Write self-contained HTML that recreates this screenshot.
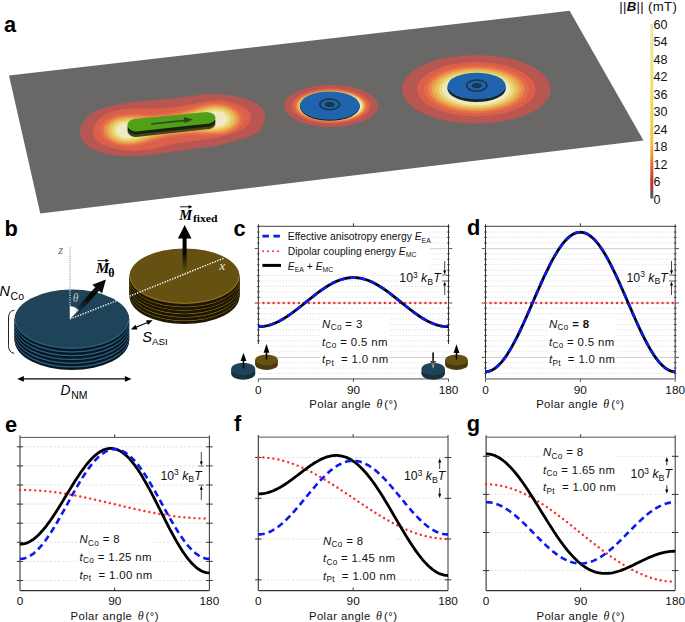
<!DOCTYPE html>
<html><head><meta charset="utf-8"><style>
html,body{margin:0;padding:0;background:#fff;overflow:hidden;}
svg{display:block;}
</style></head><body>
<svg width="685" height="622" viewBox="0 0 685 622" font-family="Liberation Sans">
<defs>
<clipPath id="clipPlane"><polygon points="9,75.4 569.6,10.8 643.5,140.4 40.3,213.5"/></clipPath>
<linearGradient id="cbar" x1="0" y1="1" x2="0" y2="0"><stop offset="0" stop-color="#5a5a5a"/><stop offset="0.05" stop-color="#5a5a5a"/><stop offset="0.05" stop-color="#b23a3a"/><stop offset="0.1" stop-color="#c52d2d"/><stop offset="0.15" stop-color="#dd4b30"/><stop offset="0.2" stop-color="#e56a35"/><stop offset="0.25" stop-color="#ee9a38"/><stop offset="0.32" stop-color="#f2c040"/><stop offset="0.5" stop-color="#f1d84c"/><stop offset="0.75" stop-color="#eee27a"/><stop offset="1" stop-color="#ece9b4"/></linearGradient>
<linearGradient id="gMth" x1="70" y1="319" x2="106" y2="279.5" gradientUnits="userSpaceOnUse"><stop offset="0.15" stop-color="#000" stop-opacity="0"/><stop offset="0.55" stop-color="#000" stop-opacity="0.9"/><stop offset="1" stop-color="#000"/></linearGradient>
<linearGradient id="gMfx" x1="0" y1="225" x2="0" y2="272" gradientUnits="userSpaceOnUse"><stop offset="0" stop-color="#000"/><stop offset="0.55" stop-color="#000"/><stop offset="1" stop-color="#000" stop-opacity="0"/></linearGradient>
<linearGradient id="gDown" x1="0" y1="352" x2="0" y2="369" gradientUnits="userSpaceOnUse"><stop offset="0" stop-color="#000"/><stop offset="0.45" stop-color="#111"/><stop offset="1" stop-color="#ddd"/></linearGradient>
<filter id="soft" x="-10%" y="-10%" width="120%" height="120%"><feGaussianBlur stdDeviation="0.5"/></filter>
<filter id="soft2" x="-10%" y="-10%" width="120%" height="120%"><feGaussianBlur stdDeviation="0.75"/></filter>
</defs>
<rect width="685" height="622" fill="#fff"/>
<polygon points="9,75.4 569.6,10.8 643.5,140.4 40.3,213.5" fill="#6a6767"/>
<g clip-path="url(#clipPlane)">
<g filter="url(#soft)">
<polygon points="80.1,131.9 80.1,133.2 80.4,134.6 80.7,135.9 81.2,137.2 81.8,138.5 82.4,139.7 83.2,140.9 84.1,142.1 85.0,143.2 86.0,144.2 87.0,145.1 88.1,146.0 89.3,146.9 90.5,147.6 91.7,148.4 92.9,149.0 94.2,149.7 95.4,150.3 96.7,150.8 98.0,151.3 99.3,151.8 100.7,152.3 102.0,152.7 103.3,153.1 104.7,153.5 106.0,153.8 107.4,154.1 108.7,154.4 110.1,154.6 111.5,154.9 112.8,155.1 114.2,155.2 115.6,155.4 117.0,155.5 118.3,155.6 119.7,155.7 121.1,155.8 122.5,155.9 123.9,155.9 125.3,156.0 126.7,156.0 128.1,156.0 129.5,156.0 130.9,156.0 132.3,155.9 133.6,155.9 135.0,155.9 136.4,155.8 137.8,155.7 139.2,155.7 140.6,155.6 142.0,155.5 143.4,155.4 144.7,155.3 146.1,155.2 147.5,155.0 148.9,154.9 150.3,154.8 151.7,154.7 153.0,154.5 154.4,154.4 155.8,154.2 157.2,154.0 158.6,153.9 159.9,153.7 161.3,153.5 162.7,153.4 164.1,153.2 165.4,153.0 166.8,152.8 168.2,152.6 169.6,152.4 171.0,152.2 172.3,152.0 173.7,151.8 175.1,151.6 176.5,151.4 177.8,151.2 179.2,151.0 180.6,150.8 182.0,150.6 183.3,150.4 184.7,150.2 186.1,150.0 187.5,149.8 188.9,149.6 190.2,149.4 191.6,149.2 193.0,149.0 194.4,148.8 195.7,148.6 197.1,148.4 198.5,148.2 199.9,148.0 201.3,147.9 202.6,147.7 204.0,147.5 205.4,147.3 206.8,147.2 208.2,147.0 209.5,146.9 210.9,146.7 212.3,146.5 213.7,146.4 215.1,146.2 216.4,145.9 217.8,145.7 219.1,145.4 220.5,145.1 221.8,144.8 223.2,144.4 224.5,144.0 225.8,143.6 227.2,143.2 228.5,142.8 229.8,142.3 231.1,141.9 232.5,141.5 233.8,141.2 235.1,140.8 236.5,140.4 237.8,140.1 239.1,139.7 240.5,139.4 241.8,139.0 243.2,138.7 244.5,138.3 245.9,137.8 247.2,137.4 248.5,136.9 249.8,136.4 251.1,135.9 252.4,135.3 253.6,134.6 254.8,133.9 256.0,133.2 257.1,132.4 258.2,131.5 259.2,130.6 260.2,129.6 261.1,128.5 261.9,127.4 262.7,126.2 263.3,125.0 263.9,123.7 264.3,122.3 264.6,121.0 264.9,119.5 265.0,118.1 265.0,116.7 264.8,115.3 264.6,113.9 264.2,112.6 263.8,111.3 263.2,110.1 262.5,109.0 261.7,107.9 260.8,106.9 259.8,105.9 258.8,105.1 257.6,104.2 256.5,103.5 255.2,102.8 254.0,102.1 252.7,101.5 251.4,100.9 250.1,100.4 248.8,99.9 247.4,99.5 246.1,99.1 244.7,98.7 243.4,98.3 242.0,98.0 240.7,97.7 239.3,97.4 238.0,97.2 236.6,96.9 235.2,96.6 233.9,96.4 232.5,96.1 231.1,95.9 229.8,95.6 228.4,95.4 227.0,95.1 225.7,94.9 224.3,94.7 222.9,94.5 221.6,94.3 220.2,94.2 218.8,94.0 217.4,93.9 216.0,93.9 214.7,93.8 213.3,93.8 211.9,93.8 210.5,93.9 209.1,94.0 207.7,94.1 206.3,94.2 205.0,94.3 203.6,94.5 202.2,94.6 200.8,94.8 199.4,95.0 198.0,95.2 196.6,95.3 195.2,95.5 193.8,95.7 192.5,95.9 191.1,96.1 189.7,96.3 188.3,96.5 186.9,96.7 185.6,96.8 184.2,97.0 182.8,97.2 181.4,97.4 180.1,97.6 178.7,97.7 177.3,97.9 175.9,98.1 174.5,98.2 173.2,98.4 171.8,98.5 170.4,98.7 169.0,98.8 167.6,99.0 166.3,99.1 164.9,99.2 163.5,99.4 162.1,99.5 160.7,99.6 159.4,99.7 158.0,99.8 156.6,100.0 155.2,100.1 153.8,100.2 152.4,100.3 151.0,100.4 149.7,100.5 148.3,100.6 146.9,100.7 145.5,100.9 144.1,101.0 142.7,101.1 141.3,101.2 140.0,101.4 138.6,101.5 137.2,101.6 135.8,101.8 134.4,101.9 133.1,102.1 131.7,102.3 130.3,102.4 128.9,102.6 127.5,102.8 126.2,103.0 124.8,103.2 123.4,103.5 122.1,103.7 120.7,103.9 119.3,104.2 118.0,104.5 116.6,104.7 115.2,105.0 113.9,105.3 112.5,105.6 111.2,106.0 109.8,106.3 108.5,106.7 107.1,107.0 105.8,107.4 104.5,107.8 103.1,108.2 101.8,108.6 100.5,109.0 99.2,109.5 97.9,110.0 96.6,110.6 95.4,111.2 94.2,111.8 93.0,112.6 91.9,113.3 90.7,114.2 89.6,115.0 88.6,116.0 87.6,117.0 86.6,118.0 85.6,119.1 84.7,120.2 83.9,121.4 83.1,122.6 82.3,123.9 81.7,125.2 81.1,126.5 80.7,127.8 80.3,129.2 80.1,130.5 80.1,131.9" fill="#b85651"/>
<polygon points="93.3,131.8 93.4,133.0 93.6,134.2 94.0,135.3 94.4,136.4 94.9,137.5 95.5,138.5 96.2,139.5 97.0,140.4 97.8,141.2 98.7,142.0 99.6,142.7 100.6,143.3 101.6,143.9 102.7,144.5 103.8,145.0 104.9,145.4 106.0,145.9 107.1,146.3 108.2,146.7 109.3,147.0 110.4,147.4 111.6,147.7 112.7,148.0 113.9,148.3 115.0,148.5 116.2,148.8 117.3,149.0 118.5,149.2 119.6,149.4 120.8,149.6 121.9,149.8 123.1,149.9 124.3,150.1 125.4,150.2 126.6,150.3 127.8,150.4 128.9,150.5 130.1,150.6 131.3,150.6 132.5,150.6 133.6,150.7 134.8,150.7 136.0,150.6 137.2,150.6 138.3,150.6 139.5,150.5 140.7,150.4 141.8,150.4 143.0,150.2 144.2,150.1 145.3,150.0 146.5,149.8 147.7,149.7 148.8,149.5 150.0,149.3 151.1,149.1 152.3,148.9 153.4,148.7 154.6,148.4 155.7,148.2 156.9,147.9 158.0,147.7 159.1,147.4 160.3,147.2 161.4,146.9 162.6,146.6 163.7,146.4 164.9,146.1 166.0,145.8 167.1,145.5 168.3,145.3 169.4,145.0 170.6,144.8 171.7,144.5 172.9,144.2 174.0,144.0 175.2,143.8 176.3,143.5 177.5,143.3 178.7,143.1 179.8,142.9 181.0,142.7 182.1,142.5 183.3,142.4 184.5,142.2 185.6,142.0 186.8,141.9 188.0,141.7 189.1,141.6 190.3,141.4 191.5,141.3 192.6,141.1 193.8,141.0 195.0,140.8 196.1,140.7 197.3,140.5 198.5,140.4 199.6,140.2 200.8,140.1 201.9,140.0 203.1,139.8 204.3,139.6 205.4,139.5 206.6,139.3 207.7,139.1 208.9,139.0 210.0,138.8 211.2,138.6 212.3,138.4 213.5,138.2 214.6,138.0 215.7,137.7 216.9,137.5 218.0,137.3 219.1,137.0 220.3,136.8 221.4,136.5 222.6,136.3 223.7,136.0 224.8,135.7 226.0,135.4 227.1,135.1 228.2,134.8 229.4,134.5 230.5,134.1 231.6,133.8 232.8,133.4 233.9,133.1 235.1,132.7 236.2,132.3 237.3,131.9 238.4,131.4 239.5,130.9 240.6,130.4 241.6,129.9 242.6,129.3 243.6,128.7 244.6,128.0 245.5,127.3 246.4,126.5 247.2,125.7 248.0,124.8 248.7,123.9 249.4,122.9 249.9,121.9 250.4,120.8 250.7,119.7 250.9,118.6 250.9,117.4 250.8,116.3 250.6,115.1 250.2,114.0 249.8,113.0 249.2,111.9 248.5,111.0 247.7,110.1 246.9,109.3 246.0,108.6 245.0,107.9 244.0,107.4 242.9,106.8 241.8,106.3 240.7,105.9 239.6,105.4 238.5,105.0 237.4,104.5 236.3,104.1 235.2,103.7 234.1,103.3 233.0,103.0 231.8,102.6 230.7,102.3 229.6,101.9 228.4,101.6 227.3,101.4 226.1,101.1 225.0,100.9 223.8,100.7 222.7,100.6 221.5,100.4 220.3,100.3 219.2,100.3 218.0,100.3 216.8,100.3 215.7,100.3 214.5,100.4 213.4,100.5 212.2,100.6 211.0,100.7 209.9,100.8 208.7,101.0 207.6,101.2 206.4,101.4 205.2,101.6 204.1,101.8 202.9,102.0 201.8,102.2 200.6,102.4 199.5,102.7 198.3,102.9 197.1,103.1 196.0,103.4 194.8,103.6 193.7,103.8 192.5,104.0 191.4,104.2 190.2,104.5 189.0,104.7 187.9,104.9 186.7,105.1 185.6,105.3 184.4,105.5 183.3,105.7 182.1,105.9 180.9,106.1 179.8,106.3 178.6,106.5 177.5,106.7 176.3,106.8 175.2,107.0 174.0,107.2 172.8,107.3 171.7,107.5 170.5,107.6 169.4,107.7 168.2,107.9 167.0,108.0 165.9,108.1 164.7,108.2 163.5,108.3 162.4,108.3 161.2,108.4 160.0,108.5 158.9,108.5 157.7,108.5 156.5,108.6 155.4,108.6 154.2,108.6 153.0,108.6 151.9,108.6 150.7,108.6 149.5,108.6 148.3,108.6 147.2,108.6 146.0,108.5 144.8,108.5 143.7,108.5 142.5,108.5 141.3,108.5 140.1,108.5 139.0,108.5 137.8,108.5 136.6,108.5 135.4,108.5 134.3,108.5 133.1,108.5 131.9,108.6 130.7,108.6 129.6,108.7 128.4,108.7 127.2,108.8 126.0,108.9 124.9,109.1 123.7,109.2 122.5,109.4 121.4,109.5 120.2,109.7 119.0,109.9 117.9,110.2 116.7,110.4 115.6,110.7 114.4,111.0 113.3,111.3 112.2,111.7 111.1,112.1 110.0,112.5 108.9,112.9 107.8,113.4 106.8,113.9 105.7,114.4 104.7,114.9 103.7,115.5 102.7,116.1 101.7,116.8 100.8,117.5 99.9,118.3 99.1,119.1 98.2,119.9 97.5,120.8 96.7,121.7 96.0,122.7 95.4,123.8 94.9,124.9 94.4,126.0 94.0,127.1 93.6,128.3 93.4,129.5 93.3,130.7 93.3,131.8" fill="#db5e4a"/>
<ellipse cx="331" cy="106" rx="47.00" ry="21.00" fill="#b85651"/>
<ellipse cx="331" cy="106" rx="39.48" ry="17.64" fill="#db5e4a"/>
<ellipse cx="476.3" cy="89.3" rx="74.50" ry="34.30" fill="#b85651"/>
<ellipse cx="476.3" cy="89.3" rx="59.23" ry="27.27" fill="#db5e4a"/>
</g>
<g filter="url(#soft2)">
<polygon points="130.5,146.5 129.5,146.6 128.5,146.6 127.5,146.6 126.5,146.5 125.7,146.5 125.0,146.5 124.0,146.4 123.0,146.3 122.0,146.2 121.0,146.0 120.5,146.0 119.5,145.8 118.5,145.6 118.0,145.5 117.0,145.2 116.1,145.0 115.5,144.8 114.5,144.5 114.0,144.4 113.0,144.0 112.5,143.8 111.7,143.5 111.0,143.2 110.5,143.0 109.5,142.5 109.0,142.2 108.5,142.0 107.7,141.5 107.0,141.1 106.5,140.7 106.0,140.4 105.5,140.0 104.9,139.5 104.3,139.0 103.8,138.5 103.3,138.0 102.9,137.5 102.5,137.0 102.0,136.3 101.5,135.6 101.2,135.0 100.9,134.5 100.5,133.5 100.4,133.0 100.2,132.0 100.0,131.0 100.0,130.0 100.1,129.0 100.3,128.0 100.5,127.2 100.7,126.5 101.0,125.9 101.5,125.0 101.8,124.5 102.1,124.0 102.5,123.5 103.0,122.9 103.5,122.4 104.0,121.8 104.5,121.4 105.0,121.0 105.6,120.5 106.2,120.0 107.0,119.5 107.5,119.2 108.0,118.8 108.6,118.5 109.5,118.0 110.0,117.8 110.6,117.5 111.5,117.1 112.0,116.9 113.0,116.5 113.5,116.3 114.5,116.0 115.0,115.8 116.0,115.5 116.5,115.4 117.5,115.2 118.2,115.0 119.0,114.8 120.0,114.6 120.9,114.5 121.5,114.4 122.5,114.3 123.5,114.2 124.5,114.1 125.5,114.0 126.0,114.0 127.0,113.9 128.0,113.8 129.0,113.8 130.0,113.7 131.0,113.7 132.0,113.7 133.0,113.7 134.0,113.7 135.0,113.7 136.0,113.8 137.0,113.8 138.0,113.8 139.0,113.9 140.0,113.9 141.0,113.9 142.0,114.0 142.5,114.0 143.5,114.0 144.5,114.1 145.5,114.1 146.5,114.1 147.5,114.2 148.5,114.2 149.5,114.2 150.5,114.2 151.5,114.2 152.5,114.2 153.5,114.2 154.5,114.1 155.5,114.1 156.5,114.0 157.4,114.0 158.0,114.0 159.0,113.9 160.0,113.8 161.0,113.7 162.0,113.6 163.0,113.6 163.5,113.5 164.5,113.4 165.5,113.3 166.5,113.2 167.5,113.0 168.0,113.0 169.0,112.8 170.0,112.7 171.0,112.5 171.5,112.4 172.5,112.3 173.5,112.1 174.1,112.0 175.0,111.8 176.0,111.6 176.6,111.5 177.5,111.3 178.5,111.1 179.0,111.0 180.0,110.7 181.0,110.5 181.5,110.4 182.5,110.1 183.0,110.0 184.0,109.7 184.8,109.5 185.5,109.3 186.5,109.0 187.0,108.8 188.0,108.5 188.5,108.4 189.5,108.1 190.0,107.9 191.0,107.6 191.5,107.4 192.5,107.1 193.0,106.9 194.0,106.6 194.5,106.5 195.5,106.1 196.0,106.0 197.0,105.7 197.7,105.5 198.5,105.3 199.5,105.0 200.0,104.9 201.0,104.6 201.6,104.5 202.5,104.3 203.5,104.1 204.0,104.0 205.0,103.8 206.0,103.6 206.7,103.5 207.5,103.4 208.5,103.2 209.5,103.1 210.5,103.0 211.0,102.9 212.0,102.9 213.0,102.8 214.0,102.7 215.0,102.7 216.0,102.7 217.0,102.8 218.0,102.8 219.0,102.9 220.0,103.0 220.5,103.0 221.5,103.1 222.5,103.3 223.5,103.4 224.0,103.5 225.0,103.7 226.0,103.9 226.5,104.1 227.5,104.3 228.1,104.5 229.0,104.8 229.7,105.0 230.5,105.3 231.1,105.5 232.0,105.9 232.5,106.1 233.4,106.5 234.0,106.8 234.5,107.1 235.3,107.5 236.0,107.9 236.5,108.2 237.0,108.6 237.6,109.0 238.2,109.5 238.8,110.0 239.4,110.5 239.9,111.0 240.4,111.5 240.8,112.0 241.2,112.5 241.5,113.0 242.0,113.7 242.4,114.5 242.6,115.0 243.0,115.9 243.2,116.5 243.4,117.5 243.5,118.5 243.5,119.0 243.5,119.5 243.4,120.5 243.2,121.5 243.0,122.1 242.7,123.0 242.4,123.5 242.0,124.3 241.6,125.0 241.2,125.5 240.8,126.0 240.4,126.5 240.0,127.0 239.4,127.5 238.9,128.0 238.3,128.5 237.7,129.0 237.0,129.5 236.5,129.8 236.0,130.1 235.4,130.5 234.5,131.0 234.0,131.3 233.5,131.5 232.5,132.0 232.0,132.2 231.3,132.5 230.5,132.8 229.9,133.0 229.0,133.3 228.4,133.5 227.5,133.8 226.6,134.0 226.0,134.1 225.0,134.4 224.3,134.5 223.5,134.7 222.5,134.8 221.5,135.0 221.0,135.0 220.0,135.1 219.0,135.2 218.0,135.3 217.0,135.4 216.0,135.4 215.0,135.5 214.5,135.5 213.5,135.5 212.5,135.6 211.5,135.6 210.5,135.6 209.5,135.6 208.5,135.6 207.5,135.5 206.5,135.5 206.0,135.5 205.0,135.5 204.0,135.4 203.0,135.4 202.0,135.3 201.0,135.3 200.0,135.3 199.0,135.2 198.0,135.2 197.0,135.2 196.0,135.1 195.0,135.1 194.0,135.1 193.0,135.1 192.0,135.1 191.0,135.1 190.0,135.1 189.0,135.2 188.0,135.2 187.0,135.3 186.0,135.3 185.0,135.4 184.0,135.4 183.2,135.5 182.5,135.6 181.5,135.7 180.5,135.8 179.5,135.9 178.5,136.0 178.0,136.0 177.0,136.1 176.0,136.3 175.0,136.4 174.4,136.5 173.5,136.6 172.5,136.8 171.5,136.9 171.0,137.0 170.0,137.2 169.0,137.4 168.4,137.5 167.5,137.7 166.5,137.9 165.9,138.0 165.0,138.2 164.0,138.4 163.5,138.5 162.5,138.8 161.7,139.0 161.0,139.2 160.0,139.4 159.5,139.6 158.5,139.9 158.0,140.0 157.0,140.3 156.4,140.5 155.5,140.8 154.8,141.0 154.0,141.2 153.2,141.5 152.5,141.7 151.6,142.0 151.0,142.2 150.1,142.5 149.5,142.7 148.5,143.0 148.0,143.2 147.0,143.4 146.5,143.6 145.5,143.9 145.0,144.0 144.0,144.3 143.2,144.5 142.5,144.7 141.5,144.9 141.0,145.0 140.0,145.2 139.0,145.4 138.5,145.5 137.5,145.7 136.5,145.9 135.5,146.0 135.0,146.1 134.0,146.2 133.0,146.3 132.0,146.4 131.0,146.5 130.5,146.5" fill="#e46c48"/>
<polygon points="132.5,144.5 131.5,144.6 130.5,144.7 129.5,144.7 128.5,144.8 127.5,144.8 126.5,144.7 125.5,144.7 124.5,144.6 123.5,144.5 123.0,144.4 122.0,144.3 121.0,144.2 120.2,144.0 119.5,143.9 118.5,143.6 118.0,143.5 117.0,143.2 116.3,143.0 115.5,142.7 114.8,142.5 114.0,142.2 113.5,142.0 112.5,141.5 112.0,141.3 111.5,141.0 110.6,140.5 110.0,140.1 109.5,139.8 109.0,139.5 108.4,139.0 107.8,138.5 107.2,138.0 106.7,137.5 106.3,137.0 105.8,136.5 105.5,136.0 105.0,135.3 104.5,134.5 104.3,134.0 104.0,133.2 103.8,132.5 103.6,131.5 103.5,130.5 103.5,129.5 103.7,128.5 103.9,127.5 104.1,127.0 104.5,126.1 104.8,125.5 105.2,125.0 105.5,124.5 106.0,123.9 106.5,123.3 107.0,122.8 107.5,122.3 108.0,121.9 108.5,121.5 109.1,121.0 109.9,120.5 110.5,120.1 111.0,119.8 111.6,119.5 112.5,119.0 113.0,118.8 113.7,118.5 114.5,118.2 115.0,118.0 116.0,117.6 116.5,117.5 117.5,117.2 118.2,117.0 119.0,116.8 120.0,116.6 120.5,116.5 121.5,116.3 122.5,116.2 123.5,116.0 124.0,116.0 125.0,115.9 126.0,115.8 127.0,115.7 128.0,115.7 129.0,115.7 130.0,115.6 131.0,115.6 132.0,115.6 133.0,115.6 134.0,115.6 135.0,115.7 136.0,115.7 137.0,115.7 138.0,115.8 139.0,115.8 140.0,115.9 141.0,116.0 141.8,116.0 142.5,116.0 143.5,116.1 144.5,116.1 145.5,116.2 146.5,116.2 147.5,116.2 148.5,116.2 149.5,116.2 150.5,116.2 151.5,116.2 152.5,116.2 153.5,116.1 154.5,116.1 155.5,116.1 156.4,116.0 157.0,116.0 158.0,115.9 159.0,115.8 160.0,115.7 161.0,115.6 162.0,115.6 162.5,115.5 163.5,115.4 164.5,115.3 165.5,115.2 166.5,115.1 167.0,115.0 168.0,114.9 169.0,114.7 170.0,114.6 170.7,114.5 171.5,114.4 172.5,114.2 173.5,114.1 174.0,114.0 175.0,113.8 176.0,113.6 176.8,113.5 177.5,113.4 178.5,113.2 179.4,113.0 180.0,112.9 181.0,112.7 181.7,112.5 182.5,112.3 183.5,112.1 184.0,112.0 185.0,111.7 185.8,111.5 186.5,111.3 187.5,111.0 188.0,110.9 189.0,110.6 189.5,110.4 190.5,110.1 191.0,109.9 192.0,109.6 192.5,109.5 193.5,109.1 194.0,109.0 195.0,108.6 195.5,108.5 196.5,108.1 197.0,108.0 198.0,107.6 198.5,107.5 199.5,107.2 200.1,107.0 201.0,106.7 201.9,106.5 202.5,106.3 203.5,106.1 204.0,106.0 205.0,105.8 206.0,105.6 206.5,105.5 207.5,105.3 208.5,105.1 209.4,105.0 210.0,104.9 211.0,104.8 212.0,104.7 213.0,104.6 214.0,104.6 215.0,104.5 216.0,104.5 217.0,104.6 218.0,104.6 219.0,104.7 220.0,104.8 221.0,104.9 221.5,105.0 222.5,105.1 223.5,105.3 224.2,105.5 225.0,105.7 226.0,105.9 226.5,106.1 227.5,106.4 228.0,106.6 229.0,106.9 229.5,107.1 230.4,107.5 231.0,107.8 231.5,108.0 232.4,108.5 233.0,108.9 233.5,109.2 234.0,109.5 234.7,110.0 235.4,110.5 236.0,111.0 236.5,111.5 237.0,112.0 237.4,112.5 237.8,113.0 238.2,113.5 238.5,114.0 239.0,114.9 239.3,115.5 239.5,116.1 239.8,117.0 239.9,118.0 240.0,118.9 240.0,119.1 239.9,120.0 239.8,121.0 239.5,122.0 239.3,122.5 239.0,123.2 238.5,124.0 238.2,124.5 237.9,125.0 237.5,125.5 237.0,126.0 236.5,126.5 236.0,127.0 235.4,127.5 234.8,128.0 234.1,128.5 233.5,128.9 233.0,129.2 232.5,129.5 231.5,130.0 231.0,130.3 230.5,130.5 229.5,130.9 229.0,131.1 228.0,131.5 227.5,131.7 226.5,132.0 226.0,132.1 225.0,132.4 224.5,132.5 223.5,132.7 222.5,132.9 221.9,133.0 221.0,133.1 220.0,133.3 219.0,133.4 218.0,133.4 217.1,133.5 216.5,133.5 215.5,133.6 214.5,133.6 213.5,133.7 212.5,133.7 211.5,133.7 210.5,133.7 209.5,133.7 208.5,133.6 207.5,133.6 206.5,133.5 205.5,133.5 205.0,133.5 204.0,133.4 203.0,133.4 202.0,133.3 201.0,133.3 200.0,133.2 199.0,133.2 198.0,133.1 197.0,133.1 196.0,133.1 195.0,133.1 194.0,133.1 193.0,133.1 192.0,133.1 191.0,133.1 190.0,133.2 189.0,133.2 188.0,133.3 187.0,133.3 186.0,133.4 185.0,133.4 184.3,133.5 183.5,133.6 182.5,133.7 181.5,133.8 180.5,133.9 179.5,134.0 179.0,134.0 178.0,134.1 177.0,134.3 176.0,134.4 175.0,134.5 174.5,134.6 173.5,134.7 172.5,134.9 171.5,135.0 171.0,135.1 170.0,135.2 169.0,135.4 168.4,135.5 167.5,135.7 166.5,135.8 165.6,136.0 165.0,136.1 164.0,136.3 163.1,136.5 162.5,136.6 161.5,136.9 160.9,137.0 160.0,137.2 159.0,137.5 158.5,137.6 157.5,137.9 157.0,138.0 156.0,138.3 155.2,138.5 154.5,138.7 153.6,139.0 153.0,139.2 152.0,139.5 151.5,139.7 150.5,140.0 150.0,140.2 149.0,140.5 148.5,140.7 147.5,141.0 147.0,141.2 146.0,141.5 145.5,141.7 144.5,142.0 144.0,142.1 143.0,142.4 142.5,142.6 141.5,142.8 140.8,143.0 140.0,143.2 139.0,143.4 138.5,143.5 137.5,143.8 136.5,143.9 136.0,144.0 135.0,144.2 134.0,144.3 133.0,144.4 132.5,144.5" fill="#ea8a4c"/>
<polygon points="131.5,143.0 130.5,143.1 129.5,143.2 128.5,143.2 127.5,143.2 126.5,143.2 125.5,143.1 124.5,143.0 124.0,143.0 123.0,142.9 122.0,142.7 121.0,142.5 120.5,142.4 119.5,142.2 118.9,142.0 118.0,141.7 117.3,141.5 116.5,141.2 115.9,141.0 115.0,140.6 114.5,140.4 113.7,140.0 113.0,139.6 112.5,139.3 112.0,139.0 111.3,138.5 110.7,138.0 110.1,137.5 109.6,137.0 109.1,136.5 108.7,136.0 108.3,135.5 107.9,135.0 107.5,134.2 107.2,133.5 107.0,133.0 106.7,132.0 106.5,131.0 106.5,130.0 106.6,129.0 106.8,128.0 107.0,127.5 107.4,126.5 107.7,126.0 108.0,125.5 108.5,124.8 109.0,124.2 109.5,123.6 110.0,123.2 110.5,122.7 111.0,122.3 111.5,121.9 112.1,121.5 113.0,121.0 113.5,120.7 114.0,120.4 114.9,120.0 115.5,119.7 116.1,119.5 117.0,119.2 117.5,119.0 118.5,118.7 119.1,118.5 120.0,118.3 121.0,118.1 121.5,118.0 122.5,117.8 123.5,117.6 124.5,117.5 125.0,117.5 126.0,117.4 127.0,117.3 128.0,117.3 129.0,117.2 130.0,117.2 131.0,117.2 132.0,117.2 133.0,117.2 134.0,117.3 135.0,117.3 136.0,117.4 137.0,117.4 138.0,117.5 138.5,117.5 139.5,117.6 140.5,117.6 141.5,117.7 142.5,117.8 143.5,117.8 144.5,117.8 145.5,117.9 146.5,117.9 147.5,117.9 148.5,117.9 149.5,117.9 150.5,117.9 151.5,117.8 152.5,117.8 153.5,117.7 154.5,117.7 155.5,117.6 156.5,117.5 157.2,117.5 158.0,117.4 159.0,117.3 160.0,117.2 161.0,117.2 162.0,117.1 162.6,117.0 163.5,116.9 164.5,116.8 165.5,116.7 166.5,116.6 167.0,116.5 168.0,116.4 169.0,116.2 170.0,116.1 170.8,116.0 171.5,115.9 172.5,115.7 173.5,115.6 174.2,115.5 175.0,115.4 176.0,115.2 177.0,115.0 177.5,115.0 178.5,114.8 179.5,114.6 180.1,114.5 181.0,114.3 182.0,114.1 182.7,114.0 183.5,113.8 184.5,113.6 185.0,113.5 186.0,113.3 187.0,113.0 187.5,112.9 188.5,112.6 189.0,112.5 190.0,112.2 190.8,112.0 191.5,111.8 192.4,111.5 193.0,111.3 193.9,111.0 194.5,110.8 195.4,110.5 196.0,110.3 196.9,110.0 197.5,109.8 198.3,109.5 199.0,109.3 199.8,109.0 200.5,108.8 201.4,108.5 202.0,108.3 203.0,108.0 203.5,107.9 204.5,107.6 205.0,107.5 206.0,107.2 207.0,107.0 207.5,106.9 208.5,106.8 209.5,106.6 210.2,106.5 211.0,106.4 212.0,106.3 213.0,106.2 214.0,106.1 215.0,106.1 216.0,106.1 217.0,106.1 218.0,106.2 219.0,106.3 220.0,106.4 220.8,106.5 221.5,106.6 222.5,106.8 223.4,107.0 224.0,107.1 225.0,107.4 225.5,107.6 226.5,107.9 227.0,108.1 228.0,108.5 228.5,108.7 229.2,109.0 230.0,109.4 230.5,109.7 231.0,110.0 231.8,110.5 232.4,111.0 233.0,111.4 233.5,111.9 234.0,112.4 234.5,112.9 235.0,113.5 235.4,114.0 235.7,114.5 236.0,115.1 236.4,116.0 236.6,116.5 236.9,117.5 237.0,118.5 237.0,119.0 237.0,119.5 236.9,120.5 236.6,121.5 236.4,122.0 236.0,123.0 235.7,123.5 235.4,124.0 235.0,124.5 234.5,125.1 234.0,125.7 233.5,126.1 233.0,126.6 232.5,127.0 231.8,127.5 231.0,128.0 230.5,128.3 230.0,128.6 229.2,129.0 228.5,129.3 228.0,129.6 227.0,130.0 226.5,130.1 225.5,130.5 225.0,130.6 224.0,130.9 223.5,131.0 222.5,131.2 221.5,131.4 221.0,131.5 220.0,131.7 219.0,131.8 218.0,131.9 217.0,131.9 216.0,132.0 215.5,132.0 214.5,132.1 213.5,132.1 212.5,132.1 211.5,132.1 210.5,132.1 209.5,132.0 209.0,132.0 208.0,132.0 207.0,131.9 206.0,131.8 205.0,131.8 204.0,131.7 203.0,131.7 202.0,131.6 201.0,131.5 200.1,131.5 199.5,131.5 198.5,131.4 197.5,131.4 196.5,131.4 195.5,131.4 194.5,131.4 193.5,131.4 192.5,131.5 191.5,131.5 191.0,131.5 190.0,131.6 189.0,131.6 188.0,131.7 187.0,131.8 186.0,131.8 185.0,131.9 184.0,132.0 183.5,132.0 182.5,132.1 181.5,132.2 180.5,132.4 179.5,132.5 179.0,132.5 178.0,132.6 177.0,132.8 176.0,132.9 175.0,133.0 174.5,133.1 173.5,133.2 172.5,133.3 171.5,133.5 171.0,133.6 170.0,133.7 169.0,133.9 168.0,134.0 167.5,134.1 166.5,134.3 165.5,134.4 165.0,134.5 164.0,134.7 163.0,134.9 162.3,135.0 161.5,135.2 160.5,135.4 159.8,135.5 159.0,135.7 158.0,135.9 157.5,136.0 156.5,136.3 155.6,136.5 155.0,136.7 154.0,136.9 153.5,137.1 152.5,137.4 152.0,137.5 151.0,137.8 150.5,138.0 149.5,138.3 149.0,138.5 148.0,138.8 147.5,139.0 146.5,139.4 146.0,139.5 145.0,139.9 144.5,140.0 143.5,140.4 143.0,140.5 142.0,140.9 141.5,141.0 140.5,141.3 139.7,141.5 139.0,141.7 138.0,141.9 137.5,142.0 136.5,142.3 135.5,142.5 135.0,142.5 134.0,142.7 133.0,142.9 132.0,143.0 131.5,143.0" fill="#e9a853"/>
<polygon points="132.5,141.6 131.5,141.7 130.5,141.8 129.5,141.9 128.5,141.9 127.5,141.9 126.5,141.9 125.5,141.8 124.5,141.7 123.5,141.6 123.0,141.5 122.0,141.3 121.0,141.1 120.5,141.0 119.5,140.7 118.9,140.5 118.0,140.2 117.5,140.0 116.5,139.6 116.0,139.3 115.3,139.0 114.5,138.5 114.0,138.2 113.5,137.9 113.0,137.5 112.4,137.0 111.9,136.5 111.4,136.0 111.0,135.5 110.5,134.9 110.0,134.1 109.7,133.5 109.5,133.0 109.2,132.0 109.0,131.0 109.0,130.0 109.1,129.0 109.4,128.0 109.5,127.5 110.0,126.5 110.3,126.0 110.6,125.5 111.0,125.0 111.5,124.5 112.0,123.9 112.5,123.5 113.1,123.0 113.8,122.5 114.5,122.1 115.0,121.8 115.5,121.5 116.5,121.0 117.0,120.8 117.7,120.5 118.5,120.2 119.1,120.0 120.0,119.7 120.9,119.5 121.5,119.4 122.5,119.2 123.5,119.0 124.0,118.9 125.0,118.8 126.0,118.7 127.0,118.7 128.0,118.6 129.0,118.6 130.0,118.6 131.0,118.6 132.0,118.6 133.0,118.6 134.0,118.7 135.0,118.7 136.0,118.8 137.0,118.8 138.0,118.9 139.0,119.0 139.5,119.0 140.5,119.1 141.5,119.1 142.5,119.2 143.5,119.2 144.5,119.2 145.5,119.3 146.5,119.3 147.5,119.3 148.5,119.2 149.5,119.2 150.5,119.2 151.5,119.1 152.5,119.1 153.5,119.0 154.0,119.0 155.0,118.9 156.0,118.8 157.0,118.7 158.0,118.6 159.0,118.6 159.6,118.5 160.5,118.4 161.5,118.3 162.5,118.2 163.5,118.1 164.2,118.0 165.0,117.9 166.0,117.8 167.0,117.7 168.0,117.5 168.5,117.5 169.5,117.3 170.5,117.2 171.5,117.1 172.1,117.0 173.0,116.9 174.0,116.7 175.0,116.6 175.5,116.5 176.5,116.3 177.5,116.2 178.5,116.0 179.0,116.0 180.0,115.8 181.0,115.6 181.7,115.5 182.5,115.3 183.5,115.2 184.4,115.0 185.0,114.9 186.0,114.7 186.8,114.5 187.5,114.3 188.5,114.1 189.0,114.0 190.0,113.7 191.0,113.5 191.5,113.4 192.5,113.1 193.0,112.9 194.0,112.6 194.5,112.5 195.5,112.1 196.0,112.0 197.0,111.6 197.5,111.5 198.5,111.1 199.0,110.9 200.0,110.6 200.5,110.4 201.5,110.1 202.0,109.9 203.0,109.6 203.5,109.4 204.5,109.1 205.0,109.0 206.0,108.7 206.9,108.5 207.5,108.3 208.5,108.1 209.3,108.0 210.0,107.9 211.0,107.7 212.0,107.6 213.0,107.5 213.5,107.5 214.5,107.4 215.5,107.4 216.5,107.4 217.5,107.5 218.0,107.5 219.0,107.6 220.0,107.7 221.0,107.9 221.6,108.0 222.5,108.2 223.5,108.5 224.0,108.6 225.0,108.9 225.5,109.1 226.5,109.5 227.0,109.7 227.6,110.0 228.5,110.5 229.0,110.8 229.5,111.1 230.1,111.5 230.7,112.0 231.3,112.5 231.8,113.0 232.3,113.5 232.7,114.0 233.1,114.5 233.5,115.2 233.9,116.0 234.1,116.5 234.4,117.5 234.5,118.5 234.5,119.0 234.5,119.5 234.4,120.5 234.1,121.5 233.9,122.0 233.5,122.8 233.1,123.5 232.7,124.0 232.3,124.5 231.9,125.0 231.3,125.5 230.8,126.0 230.1,126.5 229.5,126.9 229.0,127.3 228.5,127.5 227.6,128.0 227.0,128.3 226.5,128.5 225.5,128.9 225.0,129.1 224.0,129.4 223.5,129.6 222.5,129.8 221.7,130.0 221.0,130.1 220.0,130.3 219.0,130.4 218.3,130.5 217.5,130.6 216.5,130.6 215.5,130.7 214.5,130.7 213.5,130.7 212.5,130.7 211.5,130.7 210.5,130.7 209.5,130.6 208.5,130.6 207.5,130.5 207.0,130.5 206.0,130.4 205.0,130.4 204.0,130.3 203.0,130.2 202.0,130.2 201.0,130.1 200.0,130.1 199.0,130.1 198.0,130.0 197.0,130.0 196.0,130.0 195.0,130.1 194.0,130.1 193.0,130.1 192.0,130.2 191.0,130.2 190.0,130.3 189.0,130.4 188.0,130.4 187.2,130.5 186.5,130.6 185.5,130.7 184.5,130.8 183.5,130.9 182.5,130.9 182.0,131.0 181.0,131.1 180.0,131.2 179.0,131.3 178.0,131.5 177.5,131.5 176.5,131.6 175.5,131.8 174.5,131.9 173.6,132.0 173.0,132.1 172.0,132.2 171.0,132.4 170.0,132.5 169.5,132.6 168.5,132.7 167.5,132.9 166.6,133.0 166.0,133.1 165.0,133.3 164.0,133.4 163.5,133.5 162.5,133.7 161.5,133.9 160.7,134.0 160.0,134.1 159.0,134.3 158.1,134.5 157.5,134.6 156.5,134.8 155.8,135.0 155.0,135.2 154.0,135.4 153.5,135.5 152.5,135.8 151.8,136.0 151.0,136.2 150.0,136.5 149.5,136.7 148.5,137.0 148.0,137.2 147.0,137.5 146.5,137.7 145.5,138.0 145.0,138.2 144.1,138.5 143.5,138.7 142.7,139.0 142.0,139.2 141.2,139.5 140.5,139.7 139.6,140.0 139.0,140.2 138.0,140.5 137.5,140.6 136.5,140.8 135.8,141.0 135.0,141.2 134.0,141.3 133.0,141.5 132.5,141.6" fill="#e8c45d"/>
<polygon points="129.5,140.0 128.5,140.1 127.5,140.1 126.5,140.0 126.0,140.0 125.0,139.9 124.0,139.7 123.0,139.5 122.5,139.4 121.5,139.2 120.9,139.0 120.0,138.7 119.5,138.5 118.5,138.1 118.0,137.8 117.4,137.5 116.6,137.0 116.0,136.6 115.5,136.2 115.0,135.7 114.5,135.2 114.0,134.6 113.6,134.0 113.3,133.5 113.0,132.8 112.7,132.0 112.5,131.0 112.5,130.0 112.6,129.0 112.9,128.0 113.1,127.5 113.5,126.8 114.0,126.0 114.4,125.5 114.9,125.0 115.4,124.5 116.0,124.0 116.5,123.7 117.0,123.3 117.6,123.0 118.5,122.5 119.0,122.3 119.7,122.0 120.5,121.7 121.2,121.5 122.0,121.3 123.0,121.0 123.5,120.9 124.5,120.8 125.5,120.6 126.5,120.6 127.5,120.5 128.0,120.5 129.0,120.5 130.0,120.4 131.0,120.5 132.0,120.5 132.5,120.5 133.5,120.6 134.5,120.6 135.5,120.7 136.5,120.8 137.5,120.9 138.5,121.0 139.0,121.0 140.0,121.1 141.0,121.1 142.0,121.1 143.0,121.2 144.0,121.2 145.0,121.2 146.0,121.1 147.0,121.1 148.0,121.1 149.0,121.0 149.5,121.0 150.5,120.9 151.5,120.9 152.5,120.8 153.5,120.7 154.5,120.6 155.5,120.5 156.0,120.5 157.0,120.4 158.0,120.3 159.0,120.2 160.0,120.1 160.5,120.0 161.5,119.9 162.5,119.8 163.5,119.6 164.5,119.5 165.0,119.5 166.0,119.3 167.0,119.2 168.0,119.1 168.8,119.0 169.5,118.9 170.5,118.8 171.5,118.6 172.5,118.5 173.0,118.4 174.0,118.3 175.0,118.2 176.0,118.0 176.5,118.0 177.5,117.8 178.5,117.7 179.5,117.5 180.0,117.4 181.0,117.3 182.0,117.1 182.9,117.0 183.5,116.9 184.5,116.7 185.5,116.6 186.0,116.5 187.0,116.3 188.0,116.1 188.6,116.0 189.5,115.8 190.5,115.6 191.1,115.5 192.0,115.3 193.0,115.1 193.5,114.9 194.5,114.7 195.2,114.5 196.0,114.3 196.9,114.0 197.5,113.8 198.5,113.5 199.0,113.3 199.9,113.0 200.5,112.8 201.3,112.5 202.0,112.2 202.6,112.0 203.5,111.7 204.0,111.5 205.0,111.2 205.5,111.0 206.5,110.7 207.2,110.5 208.0,110.3 209.0,110.0 209.5,109.9 210.5,109.7 211.5,109.6 212.0,109.5 213.0,109.4 214.0,109.3 215.0,109.2 216.0,109.2 217.0,109.3 218.0,109.4 219.0,109.5 219.5,109.6 220.5,109.7 221.5,110.0 222.0,110.1 223.0,110.4 223.5,110.6 224.5,111.0 225.0,111.2 225.5,111.5 226.4,112.0 227.0,112.4 227.5,112.7 228.0,113.1 228.5,113.6 229.0,114.1 229.5,114.7 230.0,115.5 230.3,116.0 230.5,116.5 230.8,117.5 231.0,118.5 231.0,119.0 231.0,119.5 230.8,120.5 230.5,121.5 230.3,122.0 230.0,122.5 229.5,123.3 229.0,123.9 228.5,124.4 228.0,124.9 227.5,125.3 227.0,125.6 226.4,126.0 225.6,126.5 225.0,126.8 224.5,127.0 223.5,127.4 223.0,127.6 222.0,127.9 221.5,128.0 220.5,128.3 219.5,128.4 219.0,128.5 218.0,128.7 217.0,128.7 216.0,128.8 215.0,128.8 214.0,128.9 213.0,128.9 212.0,128.8 211.0,128.8 210.0,128.7 209.0,128.7 208.0,128.6 207.1,128.5 206.5,128.5 205.5,128.4 204.5,128.3 203.5,128.2 202.5,128.2 201.5,128.2 200.5,128.1 199.5,128.1 198.5,128.1 197.5,128.2 196.5,128.2 195.5,128.2 194.5,128.3 193.5,128.3 192.5,128.4 191.5,128.5 191.0,128.5 190.0,128.6 189.0,128.7 188.0,128.8 187.0,128.9 186.0,129.0 185.5,129.0 184.5,129.1 183.5,129.3 182.5,129.4 181.5,129.5 181.0,129.5 180.0,129.7 179.0,129.8 178.0,129.9 177.1,130.0 176.5,130.1 175.5,130.2 174.5,130.3 173.5,130.5 173.0,130.5 172.0,130.7 171.0,130.8 170.0,130.9 169.4,131.0 168.5,131.1 167.5,131.3 166.5,131.4 165.9,131.5 165.0,131.6 164.0,131.8 163.0,131.9 162.5,132.0 161.5,132.2 160.5,132.3 159.5,132.5 159.0,132.6 158.0,132.7 157.0,132.9 156.5,133.0 155.5,133.2 154.5,133.4 153.9,133.5 153.0,133.7 152.0,133.9 151.5,134.0 150.5,134.2 149.5,134.5 149.0,134.6 148.0,134.9 147.5,135.0 146.5,135.3 145.9,135.5 145.0,135.8 144.4,136.0 143.5,136.3 143.0,136.5 142.0,136.9 141.5,137.1 140.5,137.4 140.0,137.6 139.0,138.0 138.5,138.1 137.5,138.5 137.0,138.6 136.0,138.9 135.5,139.0 134.5,139.3 133.5,139.5 133.0,139.6 132.0,139.7 131.0,139.9 130.0,140.0 129.5,140.0" fill="#ecdc85"/>
<polygon points="130.0,138.0 129.0,138.1 128.0,138.2 127.0,138.1 126.0,138.0 125.5,138.0 124.5,137.8 123.5,137.6 123.0,137.5 122.0,137.1 121.5,136.9 120.5,136.5 120.0,136.2 119.5,135.9 118.9,135.5 118.3,135.0 117.8,134.5 117.3,134.0 117.0,133.5 116.5,132.6 116.3,132.0 116.0,131.0 116.0,130.0 116.1,129.0 116.5,128.0 116.7,127.5 117.0,127.0 117.5,126.4 118.0,125.9 118.5,125.4 119.0,125.0 119.8,124.5 120.5,124.1 121.0,123.9 121.9,123.5 122.5,123.3 123.5,123.0 124.0,122.9 125.0,122.7 126.0,122.5 126.6,122.5 127.5,122.4 128.5,122.4 129.5,122.4 130.5,122.4 131.5,122.4 132.2,122.5 133.0,122.6 134.0,122.6 135.0,122.7 136.0,122.8 137.0,122.9 137.9,123.0 138.5,123.0 139.5,123.1 140.5,123.1 141.5,123.1 142.5,123.1 143.5,123.1 144.5,123.0 145.5,123.0 146.0,123.0 147.0,122.9 148.0,122.8 149.0,122.7 150.0,122.7 151.0,122.6 151.7,122.5 152.5,122.4 153.5,122.3 154.5,122.2 155.5,122.1 156.5,122.0 157.0,121.9 158.0,121.8 159.0,121.7 160.0,121.6 160.8,121.5 161.5,121.4 162.5,121.3 163.5,121.2 164.5,121.0 165.0,121.0 166.0,120.9 167.0,120.7 168.0,120.6 168.9,120.5 169.5,120.4 170.5,120.3 171.5,120.1 172.5,120.0 173.0,120.0 174.0,119.8 175.0,119.7 176.0,119.6 176.5,119.5 177.5,119.3 178.5,119.2 179.5,119.1 180.1,119.0 181.0,118.9 182.0,118.7 183.0,118.6 183.6,118.5 184.5,118.4 185.5,118.2 186.5,118.1 187.0,118.0 188.0,117.8 189.0,117.7 190.0,117.5 190.5,117.4 191.5,117.2 192.5,117.1 193.0,117.0 194.0,116.8 195.0,116.6 195.5,116.5 196.5,116.2 197.5,116.0 198.0,115.9 199.0,115.6 199.5,115.5 200.5,115.2 201.1,115.0 202.0,114.7 202.5,114.5 203.5,114.1 204.0,114.0 205.0,113.6 205.5,113.4 206.5,113.0 207.0,112.8 207.9,112.5 208.5,112.3 209.5,112.0 210.0,111.9 211.0,111.7 211.9,111.5 212.5,111.4 213.5,111.3 214.5,111.2 215.5,111.1 216.5,111.2 217.5,111.2 218.5,111.4 219.1,111.5 220.0,111.7 221.0,112.0 221.5,112.2 222.3,112.5 223.0,112.8 223.5,113.1 224.2,113.5 224.9,114.0 225.4,114.5 225.9,115.0 226.3,115.5 226.6,116.0 227.0,116.7 227.3,117.5 227.5,118.5 227.5,119.0 227.5,119.5 227.3,120.5 227.0,121.3 226.6,122.0 226.3,122.5 225.9,123.0 225.4,123.5 224.9,124.0 224.2,124.5 223.5,124.9 223.0,125.2 222.4,125.5 221.5,125.9 221.0,126.0 220.0,126.3 219.1,126.5 218.5,126.6 217.5,126.8 216.5,126.8 215.5,126.9 214.5,126.9 213.5,126.9 212.5,126.9 211.5,126.8 210.5,126.7 209.5,126.7 208.5,126.6 208.0,126.5 207.0,126.4 206.0,126.3 205.0,126.3 204.0,126.2 203.0,126.2 202.0,126.2 201.0,126.2 200.0,126.2 199.0,126.3 198.0,126.3 197.0,126.4 196.0,126.4 195.1,126.5 194.5,126.6 193.5,126.6 192.5,126.7 191.5,126.8 190.5,126.9 189.8,127.0 189.0,127.1 188.0,127.2 187.0,127.3 186.0,127.4 185.2,127.5 184.5,127.6 183.5,127.7 182.5,127.8 181.5,127.9 181.0,128.0 180.0,128.1 179.0,128.3 178.0,128.4 177.0,128.5 176.5,128.6 175.5,128.7 174.5,128.8 173.5,128.9 173.0,129.0 172.0,129.1 171.0,129.3 170.0,129.4 169.2,129.5 168.5,129.6 167.5,129.7 166.5,129.9 165.5,130.0 165.0,130.1 164.0,130.2 163.0,130.4 162.0,130.5 161.5,130.6 160.5,130.7 159.5,130.9 158.5,131.0 158.0,131.1 157.0,131.2 156.0,131.4 155.3,131.5 154.5,131.6 153.5,131.8 152.5,132.0 152.0,132.1 151.0,132.2 150.0,132.4 149.5,132.5 148.5,132.7 147.5,132.9 147.0,133.1 146.0,133.3 145.1,133.5 144.5,133.7 143.5,134.0 143.0,134.1 142.0,134.4 141.5,134.6 140.5,135.0 140.0,135.2 139.1,135.5 138.5,135.7 137.8,136.0 137.0,136.3 136.5,136.5 135.5,136.8 134.9,137.0 134.0,137.3 133.1,137.5 132.5,137.6 131.5,137.8 130.5,138.0 130.0,138.0" fill="#efeac2"/>
<ellipse cx="331" cy="106" rx="36.66" ry="16.38" fill="#e46c48"/>
<ellipse cx="331" cy="106" rx="35.02" ry="15.64" fill="#ea8a4c"/>
<ellipse cx="331" cy="106" rx="33.84" ry="15.12" fill="#e9a853"/>
<ellipse cx="331" cy="106" rx="32.90" ry="14.70" fill="#e8c45d"/>
<ellipse cx="331" cy="106" rx="31.96" ry="14.28" fill="#ecdc85"/>
<ellipse cx="331" cy="106" rx="31.02" ry="13.86" fill="#efeac2"/>
<ellipse cx="476.3" cy="89.3" rx="52.52" ry="24.18" fill="#e46c48"/>
<ellipse cx="476.3" cy="89.3" rx="48.05" ry="22.12" fill="#ea8a4c"/>
<ellipse cx="476.3" cy="89.3" rx="44.70" ry="20.58" fill="#e9a853"/>
<ellipse cx="476.3" cy="89.3" rx="41.35" ry="19.04" fill="#e8c45d"/>
<ellipse cx="476.3" cy="89.3" rx="37.62" ry="17.32" fill="#ecdc85"/>
<ellipse cx="476.3" cy="89.3" rx="33.90" ry="15.61" fill="#efeac2"/>
</g>
</g>
<polygon points="136.30,124.30 134.92,124.38 133.58,124.61 132.30,125.00 131.13,125.52 130.08,126.17 129.18,126.94 128.46,127.79 127.93,128.72 127.61,129.70 127.50,130.70 127.61,131.70 127.93,132.68 128.46,133.61 129.18,134.46 130.08,135.23 131.13,135.88 132.30,136.40 133.58,136.79 134.92,137.02 136.30,137.10 206.60,129.30 207.98,129.23 209.32,129.02 210.60,128.67 211.77,128.19 212.82,127.60 213.72,126.91 214.44,126.13 214.97,125.29 215.29,124.41 215.40,123.50 215.29,122.59 214.97,121.71 214.44,120.87 213.72,120.09 212.82,119.40 211.77,118.81 210.60,118.33 209.32,117.98 207.98,117.77 206.60,117.70" fill="#45461c"/>
<polygon points="136.30,121.70 134.92,121.78 133.58,122.01 132.30,122.40 131.13,122.92 130.08,123.57 129.18,124.34 128.46,125.19 127.93,126.12 127.61,127.10 127.50,128.10 127.61,129.10 127.93,130.08 128.46,131.01 129.18,131.86 130.08,132.63 131.13,133.28 132.30,133.80 133.58,134.19 134.92,134.42 136.30,134.50 206.60,126.70 207.98,126.63 209.32,126.42 210.60,126.07 211.77,125.59 212.82,125.00 213.72,124.31 214.44,123.53 214.97,122.69 215.29,121.81 215.40,120.90 215.29,119.99 214.97,119.11 214.44,118.27 213.72,117.49 212.82,116.80 211.77,116.21 210.60,115.73 209.32,115.38 207.98,115.17 206.60,115.10" fill="#16220b"/>
<polygon points="136.30,118.70 134.92,118.78 133.58,119.01 132.30,119.40 131.13,119.92 130.08,120.57 129.18,121.34 128.46,122.19 127.93,123.12 127.61,124.10 127.50,125.10 127.61,126.10 127.93,127.08 128.46,128.01 129.18,128.86 130.08,129.63 131.13,130.28 132.30,130.80 133.58,131.19 134.92,131.42 136.30,131.50 206.60,123.70 207.98,123.63 209.32,123.42 210.60,123.07 211.77,122.59 212.82,122.00 213.72,121.31 214.44,120.53 214.97,119.69 215.29,118.81 215.40,117.90 215.29,116.99 214.97,116.11 214.44,115.27 213.72,114.49 212.82,113.80 211.77,113.21 210.60,112.73 209.32,112.38 207.98,112.17 206.60,112.10" fill="#52a01a"/>
<line x1="151.2" y1="124" x2="185.5" y2="120.4" stroke="#2c4a22" stroke-width="1.7"/>
<polygon points="193,119.5 183.8,116.9 184.5,123.3" fill="#2c4a22"/>
<ellipse cx="329.8" cy="106.6" rx="30" ry="14.2" fill="#141e26"/>
<ellipse cx="329.8" cy="105.6" rx="30" ry="14.2" fill="#1f64ad"/>
<ellipse cx="329.7" cy="104.4" rx="9.9" ry="5.3" fill="none" stroke="#1b3550" stroke-width="1.6"/>
<ellipse cx="329.7" cy="104.4" rx="4.8" ry="2.7" fill="#1b3550"/>
<ellipse cx="476.6" cy="88.6" rx="29.2" ry="13.3" fill="#14202a" filter="url(#soft)"/>
<ellipse cx="476.6" cy="86" rx="29.2" ry="13.3" fill="#1f64ad"/>
<ellipse cx="476.8" cy="85.6" rx="10.1" ry="5.6" fill="none" stroke="#1b3550" stroke-width="1.6"/>
<ellipse cx="476.8" cy="85.6" rx="4.9" ry="2.7" fill="#1b3550"/>
<rect x="650.3" y="24" width="3" height="174.5" fill="url(#cbar)"/>
<text x="653.6" y="28.80" font-family="Liberation Sans" font-size="12.5" fill="#111">60</text>
<text x="653.6" y="46.27" font-family="Liberation Sans" font-size="12.5" fill="#111">54</text>
<text x="653.6" y="63.74" font-family="Liberation Sans" font-size="12.5" fill="#111">48</text>
<text x="653.6" y="81.21" font-family="Liberation Sans" font-size="12.5" fill="#111">42</text>
<text x="653.6" y="98.68" font-family="Liberation Sans" font-size="12.5" fill="#111">36</text>
<text x="653.6" y="116.15" font-family="Liberation Sans" font-size="12.5" fill="#111">30</text>
<text x="653.6" y="133.62" font-family="Liberation Sans" font-size="12.5" fill="#111">24</text>
<text x="653.6" y="151.09" font-family="Liberation Sans" font-size="12.5" fill="#111">18</text>
<text x="653.6" y="168.56" font-family="Liberation Sans" font-size="12.5" fill="#111">12</text>
<text x="653.6" y="186.03" font-family="Liberation Sans" font-size="12.5" fill="#111">6</text>
<text x="653.6" y="203.50" font-family="Liberation Sans" font-size="12.5" fill="#111">0</text>
<text x="619.3" y="10.8" font-family="Liberation Sans" font-size="13.2" fill="#111" textLength="57.5" lengthAdjust="spacing">||<tspan font-weight="bold" font-style="italic">B</tspan>|| (mT)</text>
<text x="4.0" y="32.2" font-family="Liberation Sans" font-weight="bold" font-size="21.8" fill="#000">a</text>
<text x="4.6" y="236.4" font-family="Liberation Sans" font-weight="bold" font-size="21.8" fill="#000">b</text>
<text x="233.6" y="236" font-family="Liberation Sans" font-weight="bold" font-size="21.8" fill="#000">c</text>
<text x="467.0" y="235.2" font-family="Liberation Sans" font-weight="bold" font-size="21.8" fill="#000">d</text>
<text x="5.0" y="432.1" font-family="Liberation Sans" font-weight="bold" font-size="21.8" fill="#000">e</text>
<text x="234.0" y="431.2" font-family="Liberation Sans" font-weight="bold" font-size="21.8" fill="#000">f</text>
<text x="466.8" y="430.6" font-family="Liberation Sans" font-weight="bold" font-size="21.8" fill="#000">g</text>
<ellipse cx="184.5" cy="296.35" rx="55" ry="27.7" fill="#1e1704"/>
<ellipse cx="184.5" cy="294.85" rx="55" ry="27.7" fill="#1e1704"/>
<ellipse cx="184.5" cy="293.35" rx="55" ry="27.7" fill="#655213"/>
<path d="M129.90,293.35 A54.6,27.2 0 0 0 239.10,293.35" fill="none" stroke="#a17f18" stroke-width="0.9"/>
<ellipse cx="184.5" cy="292.90" rx="55" ry="27.7" fill="#1e1704"/>
<ellipse cx="184.5" cy="291.40" rx="55" ry="27.7" fill="#1e1704"/>
<ellipse cx="184.5" cy="289.90" rx="55" ry="27.7" fill="#655213"/>
<path d="M129.90,289.90 A54.6,27.2 0 0 0 239.10,289.90" fill="none" stroke="#a17f18" stroke-width="0.9"/>
<ellipse cx="184.5" cy="289.45" rx="55" ry="27.7" fill="#1e1704"/>
<ellipse cx="184.5" cy="287.95" rx="55" ry="27.7" fill="#1e1704"/>
<ellipse cx="184.5" cy="286.45" rx="55" ry="27.7" fill="#655213"/>
<path d="M129.90,286.45 A54.6,27.2 0 0 0 239.10,286.45" fill="none" stroke="#a17f18" stroke-width="0.9"/>
<ellipse cx="184.5" cy="286.00" rx="55" ry="27.7" fill="#1e1704"/>
<ellipse cx="184.5" cy="284.50" rx="55" ry="27.7" fill="#1e1704"/>
<ellipse cx="184.5" cy="283.00" rx="55" ry="27.7" fill="#655213"/>
<path d="M129.90,283.00 A54.6,27.2 0 0 0 239.10,283.00" fill="none" stroke="#a17f18" stroke-width="0.9"/>
<ellipse cx="184.5" cy="282.55" rx="55" ry="27.7" fill="#1e1704"/>
<ellipse cx="184.5" cy="281.05" rx="55" ry="27.7" fill="#1e1704"/>
<ellipse cx="184.5" cy="279.55" rx="55" ry="27.7" fill="#655213"/>
<path d="M129.90,279.55 A54.6,27.2 0 0 0 239.10,279.55" fill="none" stroke="#a17f18" stroke-width="0.9"/>
<ellipse cx="184.5" cy="279.10" rx="55" ry="27.7" fill="#1e1704"/>
<ellipse cx="184.5" cy="277.60" rx="55" ry="27.7" fill="#1e1704"/>
<ellipse cx="184.5" cy="276.10" rx="55" ry="27.7" fill="#655213"/>
<path d="M129.90,276.10 A54.6,27.2 0 0 0 239.10,276.10" fill="none" stroke="#a17f18" stroke-width="0.9"/>
<rect x="182.6" y="237.5" width="4" height="35" fill="url(#gMfx)"/>
<polygon points="184.7,225 177.9,238.5 191.5,238.5" fill="#000"/>
<line x1="129.5" y1="296.2" x2="223.6" y2="258.3" stroke="#fff" stroke-width="1.4" stroke-dasharray="1.4 1.3"/>
<text x="219.3" y="269.6" font-family="Liberation Serif" font-style="italic" font-size="13.5" fill="#e4e4e4">x</text>
<ellipse cx="71.9" cy="340.35" rx="57.3" ry="29.6" fill="#0a1822"/>
<ellipse cx="71.9" cy="339.15" rx="57.3" ry="29.6" fill="#0a1822"/>
<ellipse cx="71.9" cy="337.95" rx="57.3" ry="29.6" fill="#1f4459"/>
<path d="M15.00,337.95 A56.9,29.1 0 0 0 128.80,337.95" fill="none" stroke="#2f6d98" stroke-width="0.85"/>
<ellipse cx="71.9" cy="336.60" rx="57.3" ry="29.6" fill="#0a1822"/>
<ellipse cx="71.9" cy="335.40" rx="57.3" ry="29.6" fill="#0a1822"/>
<ellipse cx="71.9" cy="334.20" rx="57.3" ry="29.6" fill="#1f4459"/>
<path d="M15.00,334.20 A56.9,29.1 0 0 0 128.80,334.20" fill="none" stroke="#2f6d98" stroke-width="0.85"/>
<ellipse cx="71.9" cy="332.85" rx="57.3" ry="29.6" fill="#0a1822"/>
<ellipse cx="71.9" cy="331.65" rx="57.3" ry="29.6" fill="#0a1822"/>
<ellipse cx="71.9" cy="330.45" rx="57.3" ry="29.6" fill="#1f4459"/>
<path d="M15.00,330.45 A56.9,29.1 0 0 0 128.80,330.45" fill="none" stroke="#2f6d98" stroke-width="0.85"/>
<ellipse cx="71.9" cy="329.10" rx="57.3" ry="29.6" fill="#0a1822"/>
<ellipse cx="71.9" cy="327.90" rx="57.3" ry="29.6" fill="#0a1822"/>
<ellipse cx="71.9" cy="326.70" rx="57.3" ry="29.6" fill="#1f4459"/>
<path d="M15.00,326.70 A56.9,29.1 0 0 0 128.80,326.70" fill="none" stroke="#2f6d98" stroke-width="0.85"/>
<ellipse cx="71.9" cy="325.35" rx="57.3" ry="29.6" fill="#0a1822"/>
<ellipse cx="71.9" cy="324.15" rx="57.3" ry="29.6" fill="#0a1822"/>
<ellipse cx="71.9" cy="322.95" rx="57.3" ry="29.6" fill="#1f4459"/>
<path d="M15.00,322.95 A56.9,29.1 0 0 0 128.80,322.95" fill="none" stroke="#2f6d98" stroke-width="0.85"/>
<ellipse cx="71.9" cy="321.60" rx="57.3" ry="29.6" fill="#0a1822"/>
<ellipse cx="71.9" cy="320.40" rx="57.3" ry="29.6" fill="#0a1822"/>
<ellipse cx="71.9" cy="319.20" rx="57.3" ry="29.6" fill="#1f4459"/>
<path d="M15.00,319.20 A56.9,29.1 0 0 0 128.80,319.20" fill="none" stroke="#2f6d98" stroke-width="0.85"/>
<line x1="70" y1="247.5" x2="70" y2="290" stroke="#888" stroke-width="1" stroke-dasharray="1 1.1"/>
<line x1="70" y1="290" x2="70" y2="319" stroke="#fff" stroke-width="1" stroke-dasharray="1.2 1.2"/>
<text x="58.3" y="253.6" font-family="Liberation Serif" font-style="italic" font-size="12.5" fill="#666">z</text>
<line x1="70" y1="319" x2="118.5" y2="300" stroke="#fff" stroke-width="1.3" stroke-dasharray="1.4 1.3"/>
<path d="M70,319 L70,306.2 Q75,306.5 78.8,310 Z" fill="#fff"/>
<text x="72.8" y="301.6" font-family="Liberation Serif" font-style="italic" font-size="11.5" fill="#c8c8c8">θ</text>
<polygon points="75.42,316.95 99.09,290.87 102.05,293.56 105.90,279.50 92.28,284.68 95.24,287.37 71.58,313.45" fill="url(#gMth)"/>
<text x="96" y="273" font-family="Liberation Serif" font-weight="bold" font-style="italic" font-size="15" fill="#000">M</text>
<text x="108.2" y="276.5" font-family="Liberation Serif" font-weight="bold" font-size="12" fill="#000">θ</text>
<line x1="97.5" y1="260.6" x2="107" y2="260.6" stroke="#000" stroke-width="0.9"/><polygon points="109.2,260.6 105.5,258.7 105.5,262.5" fill="#000"/>
<text x="179.3" y="219.5" font-family="Liberation Serif" font-weight="bold" font-style="italic" font-size="14.5" fill="#000">M</text>
<text x="192.9" y="221.8" font-family="Liberation Serif" font-weight="bold" font-size="10.8" fill="#000" textLength="24.6" lengthAdjust="spacingAndGlyphs">fixed</text>
<line x1="180" y1="206.8" x2="190" y2="206.8" stroke="#000" stroke-width="0.9"/><polygon points="192.4,206.8 188.6,204.9 188.6,208.7" fill="#000"/>
<text x="-0.6" y="295.8" font-family="Liberation Sans" font-style="italic" font-size="14.4" fill="#000">N</text>
<text x="10.6" y="299.5" font-family="Liberation Sans" font-size="10.5" fill="#000">Co</text>
<path d="M14.2,310.2 Q8.5,311 8.5,318 L8.5,345.5 Q8.5,352.5 14.2,353.3" fill="none" stroke="#222" stroke-width="1"/>
<line x1="135.37" y1="327.58" x2="148.13" y2="322.22" stroke="#000" stroke-width="1.1"/><polygon points="130.80,329.50 137.52,329.50 135.51,324.70" fill="#000"/><polygon points="152.70,320.30 147.99,325.10 145.98,320.30" fill="#000"/>
<text x="142.2" y="342.4" font-family="Liberation Sans" font-style="italic" font-size="14.6" fill="#000">S</text>
<text x="152" y="345.3" font-family="Liberation Sans" font-size="9.7" fill="#000">ASI</text>
<line x1="22.48" y1="378.90" x2="126.22" y2="378.90" stroke="#000" stroke-width="1.3"/><polygon points="17.20,378.90 23.80,381.80 23.80,376.00" fill="#000"/><polygon points="131.50,378.90 124.90,381.80 124.90,376.00" fill="#000"/>
<text x="60.6" y="395.1" font-family="Liberation Sans" font-style="italic" font-size="13.8" fill="#000">D</text>
<text x="71.2" y="398.8" font-family="Liberation Sans" font-size="10.4" fill="#000">NM</text>
<line x1="258.4" y1="232.04" x2="448.5" y2="232.04" stroke="#e0e0e0" stroke-width="0.8" stroke-dasharray="1.6 1.4"/>
<line x1="258.4" y1="237.48" x2="448.5" y2="237.48" stroke="#e0e0e0" stroke-width="0.8" stroke-dasharray="1.6 1.4"/>
<line x1="258.4" y1="242.92" x2="448.5" y2="242.92" stroke="#e0e0e0" stroke-width="0.8" stroke-dasharray="1.6 1.4"/>
<line x1="258.4" y1="253.80" x2="448.5" y2="253.80" stroke="#e0e0e0" stroke-width="0.8" stroke-dasharray="1.6 1.4"/>
<line x1="258.4" y1="259.24" x2="448.5" y2="259.24" stroke="#e0e0e0" stroke-width="0.8" stroke-dasharray="1.6 1.4"/>
<line x1="258.4" y1="264.68" x2="448.5" y2="264.68" stroke="#e0e0e0" stroke-width="0.8" stroke-dasharray="1.6 1.4"/>
<line x1="258.4" y1="270.12" x2="448.5" y2="270.12" stroke="#e0e0e0" stroke-width="0.8" stroke-dasharray="1.6 1.4"/>
<line x1="258.4" y1="275.56" x2="448.5" y2="275.56" stroke="#e0e0e0" stroke-width="0.8" stroke-dasharray="1.6 1.4"/>
<line x1="258.4" y1="281.00" x2="448.5" y2="281.00" stroke="#e0e0e0" stroke-width="0.8" stroke-dasharray="1.6 1.4"/>
<line x1="258.4" y1="286.44" x2="448.5" y2="286.44" stroke="#e0e0e0" stroke-width="0.8" stroke-dasharray="1.6 1.4"/>
<line x1="258.4" y1="291.88" x2="448.5" y2="291.88" stroke="#e0e0e0" stroke-width="0.8" stroke-dasharray="1.6 1.4"/>
<line x1="258.4" y1="297.32" x2="448.5" y2="297.32" stroke="#e0e0e0" stroke-width="0.8" stroke-dasharray="1.6 1.4"/>
<line x1="258.4" y1="308.20" x2="448.5" y2="308.20" stroke="#e0e0e0" stroke-width="0.8" stroke-dasharray="1.6 1.4"/>
<line x1="258.4" y1="313.64" x2="448.5" y2="313.64" stroke="#e0e0e0" stroke-width="0.8" stroke-dasharray="1.6 1.4"/>
<line x1="258.4" y1="319.08" x2="448.5" y2="319.08" stroke="#e0e0e0" stroke-width="0.8" stroke-dasharray="1.6 1.4"/>
<line x1="258.4" y1="324.52" x2="448.5" y2="324.52" stroke="#e0e0e0" stroke-width="0.8" stroke-dasharray="1.6 1.4"/>
<line x1="258.4" y1="329.96" x2="448.5" y2="329.96" stroke="#e0e0e0" stroke-width="0.8" stroke-dasharray="1.6 1.4"/>
<line x1="258.4" y1="335.40" x2="448.5" y2="335.40" stroke="#e0e0e0" stroke-width="0.8" stroke-dasharray="1.6 1.4"/>
<line x1="258.4" y1="340.84" x2="448.5" y2="340.84" stroke="#e0e0e0" stroke-width="0.8" stroke-dasharray="1.6 1.4"/>
<line x1="258.4" y1="346.28" x2="448.5" y2="346.28" stroke="#e0e0e0" stroke-width="0.8" stroke-dasharray="1.6 1.4"/>
<line x1="258.4" y1="351.72" x2="448.5" y2="351.72" stroke="#e0e0e0" stroke-width="0.8" stroke-dasharray="1.6 1.4"/>
<line x1="258.4" y1="362.60" x2="448.5" y2="362.60" stroke="#e0e0e0" stroke-width="0.8" stroke-dasharray="1.6 1.4"/>
<line x1="258.4" y1="368.04" x2="448.5" y2="368.04" stroke="#e0e0e0" stroke-width="0.8" stroke-dasharray="1.6 1.4"/>
<line x1="258.4" y1="373.48" x2="448.5" y2="373.48" stroke="#e0e0e0" stroke-width="0.8" stroke-dasharray="1.6 1.4"/>
<line x1="258.4" y1="248.6" x2="448.5" y2="248.6" stroke="#c9c9c9" stroke-width="0.9"/>
<line x1="258.4" y1="303.0" x2="448.5" y2="303.0" stroke="#c9c9c9" stroke-width="0.9"/>
<line x1="258.4" y1="357.4" x2="448.5" y2="357.4" stroke="#c9c9c9" stroke-width="0.9"/>
<line x1="258.4" y1="224.3" x2="258.4" y2="344" stroke="#333" stroke-width="1"/>
<line x1="448.5" y1="224.3" x2="448.5" y2="344" stroke="#333" stroke-width="1"/>
<line x1="258.4" y1="226.3" x2="448.5" y2="226.3" stroke="#444" stroke-width="1"/>
<line x1="258.4" y1="378.8" x2="448.5" y2="378.8" stroke="#9a9a9a" stroke-width="1.8"/>
<line x1="353.45" y1="223.3" x2="353.45" y2="226.3" stroke="#333" stroke-width="1"/>
<line x1="258.4" y1="378.8" x2="258.4" y2="381.8" stroke="#555" stroke-width="1"/>
<line x1="353.45" y1="378.8" x2="353.45" y2="381.8" stroke="#555" stroke-width="1"/>
<line x1="448.5" y1="378.8" x2="448.5" y2="381.8" stroke="#555" stroke-width="1"/>
<line x1="257.09999999999997" y1="232.04" x2="259.7" y2="232.04" stroke="#333" stroke-width="0.9"/>
<line x1="447.2" y1="232.04" x2="449.8" y2="232.04" stroke="#333" stroke-width="0.9"/>
<line x1="257.09999999999997" y1="237.48" x2="259.7" y2="237.48" stroke="#333" stroke-width="0.9"/>
<line x1="447.2" y1="237.48" x2="449.8" y2="237.48" stroke="#333" stroke-width="0.9"/>
<line x1="257.09999999999997" y1="242.92" x2="259.7" y2="242.92" stroke="#333" stroke-width="0.9"/>
<line x1="447.2" y1="242.92" x2="449.8" y2="242.92" stroke="#333" stroke-width="0.9"/>
<line x1="257.09999999999997" y1="253.80" x2="259.7" y2="253.80" stroke="#333" stroke-width="0.9"/>
<line x1="447.2" y1="253.80" x2="449.8" y2="253.80" stroke="#333" stroke-width="0.9"/>
<line x1="257.09999999999997" y1="259.24" x2="259.7" y2="259.24" stroke="#333" stroke-width="0.9"/>
<line x1="447.2" y1="259.24" x2="449.8" y2="259.24" stroke="#333" stroke-width="0.9"/>
<line x1="257.09999999999997" y1="264.68" x2="259.7" y2="264.68" stroke="#333" stroke-width="0.9"/>
<line x1="447.2" y1="264.68" x2="449.8" y2="264.68" stroke="#333" stroke-width="0.9"/>
<line x1="257.09999999999997" y1="270.12" x2="259.7" y2="270.12" stroke="#333" stroke-width="0.9"/>
<line x1="447.2" y1="270.12" x2="449.8" y2="270.12" stroke="#333" stroke-width="0.9"/>
<line x1="257.09999999999997" y1="275.56" x2="259.7" y2="275.56" stroke="#333" stroke-width="0.9"/>
<line x1="447.2" y1="275.56" x2="449.8" y2="275.56" stroke="#333" stroke-width="0.9"/>
<line x1="257.09999999999997" y1="281.00" x2="259.7" y2="281.00" stroke="#333" stroke-width="0.9"/>
<line x1="447.2" y1="281.00" x2="449.8" y2="281.00" stroke="#333" stroke-width="0.9"/>
<line x1="257.09999999999997" y1="286.44" x2="259.7" y2="286.44" stroke="#333" stroke-width="0.9"/>
<line x1="447.2" y1="286.44" x2="449.8" y2="286.44" stroke="#333" stroke-width="0.9"/>
<line x1="257.09999999999997" y1="291.88" x2="259.7" y2="291.88" stroke="#333" stroke-width="0.9"/>
<line x1="447.2" y1="291.88" x2="449.8" y2="291.88" stroke="#333" stroke-width="0.9"/>
<line x1="257.09999999999997" y1="297.32" x2="259.7" y2="297.32" stroke="#333" stroke-width="0.9"/>
<line x1="447.2" y1="297.32" x2="449.8" y2="297.32" stroke="#333" stroke-width="0.9"/>
<line x1="257.09999999999997" y1="308.20" x2="259.7" y2="308.20" stroke="#333" stroke-width="0.9"/>
<line x1="447.2" y1="308.20" x2="449.8" y2="308.20" stroke="#333" stroke-width="0.9"/>
<line x1="257.09999999999997" y1="313.64" x2="259.7" y2="313.64" stroke="#333" stroke-width="0.9"/>
<line x1="447.2" y1="313.64" x2="449.8" y2="313.64" stroke="#333" stroke-width="0.9"/>
<line x1="257.09999999999997" y1="319.08" x2="259.7" y2="319.08" stroke="#333" stroke-width="0.9"/>
<line x1="447.2" y1="319.08" x2="449.8" y2="319.08" stroke="#333" stroke-width="0.9"/>
<line x1="257.09999999999997" y1="324.52" x2="259.7" y2="324.52" stroke="#333" stroke-width="0.9"/>
<line x1="447.2" y1="324.52" x2="449.8" y2="324.52" stroke="#333" stroke-width="0.9"/>
<line x1="257.09999999999997" y1="329.96" x2="259.7" y2="329.96" stroke="#333" stroke-width="0.9"/>
<line x1="447.2" y1="329.96" x2="449.8" y2="329.96" stroke="#333" stroke-width="0.9"/>
<line x1="257.09999999999997" y1="335.40" x2="259.7" y2="335.40" stroke="#333" stroke-width="0.9"/>
<line x1="447.2" y1="335.40" x2="449.8" y2="335.40" stroke="#333" stroke-width="0.9"/>
<line x1="257.09999999999997" y1="340.84" x2="259.7" y2="340.84" stroke="#333" stroke-width="0.9"/>
<line x1="447.2" y1="340.84" x2="449.8" y2="340.84" stroke="#333" stroke-width="0.9"/>
<line x1="257.09999999999997" y1="226.60" x2="259.7" y2="226.60" stroke="#333" stroke-width="0.9"/>
<line x1="447.2" y1="226.60" x2="449.8" y2="226.60" stroke="#333" stroke-width="0.9"/>
<line x1="254.59999999999997" y1="248.6" x2="258.9" y2="248.6" stroke="#555" stroke-width="1"/>
<line x1="448.0" y1="248.6" x2="452.3" y2="248.6" stroke="#555" stroke-width="1"/>
<line x1="254.59999999999997" y1="303.0" x2="258.9" y2="303.0" stroke="#555" stroke-width="1"/>
<line x1="448.0" y1="303.0" x2="452.3" y2="303.0" stroke="#555" stroke-width="1"/>
<rect x="259.5" y="227.5" width="170" height="46" fill="#fff"/>
<rect x="320.5" y="316" width="68.5" height="51" fill="#fff"/>
<rect x="398" y="270" width="43" height="15" fill="#fff"/>
<path d="M258.40,303.00 L259.98,303.00 L261.57,303.00 L263.15,303.00 L264.74,303.00 L266.32,303.00 L267.90,303.00 L269.49,303.00 L271.07,303.00 L272.66,303.00 L274.24,303.00 L275.83,303.00 L277.41,303.00 L278.99,303.00 L280.58,303.00 L282.16,303.00 L283.75,303.00 L285.33,303.00 L286.91,303.00 L288.50,303.00 L290.08,303.00 L291.67,303.00 L293.25,303.00 L294.84,303.00 L296.42,303.00 L298.00,303.00 L299.59,303.00 L301.17,303.00 L302.76,303.00 L304.34,303.00 L305.92,303.00 L307.51,303.00 L309.09,303.00 L310.68,303.00 L312.26,303.00 L313.85,303.00 L315.43,303.00 L317.01,303.00 L318.60,303.00 L320.18,303.00 L321.77,303.00 L323.35,303.00 L324.94,303.00 L326.52,303.00 L328.10,303.00 L329.69,303.00 L331.27,303.00 L332.86,303.00 L334.44,303.00 L336.02,303.00 L337.61,303.00 L339.19,303.00 L340.78,303.00 L342.36,303.00 L343.94,303.00 L345.53,303.00 L347.11,303.00 L348.70,303.00 L350.28,303.00 L351.87,303.00 L353.45,303.00 L355.03,303.00 L356.62,303.00 L358.20,303.00 L359.79,303.00 L361.37,303.00 L362.95,303.00 L364.54,303.00 L366.12,303.00 L367.71,303.00 L369.29,303.00 L370.88,303.00 L372.46,303.00 L374.04,303.00 L375.63,303.00 L377.21,303.00 L378.80,303.00 L380.38,303.00 L381.96,303.00 L383.55,303.00 L385.13,303.00 L386.72,303.00 L388.30,303.00 L389.89,303.00 L391.47,303.00 L393.05,303.00 L394.64,303.00 L396.22,303.00 L397.81,303.00 L399.39,303.00 L400.98,303.00 L402.56,303.00 L404.14,303.00 L405.73,303.00 L407.31,303.00 L408.90,303.00 L410.48,303.00 L412.06,303.00 L413.65,303.00 L415.23,303.00 L416.82,303.00 L418.40,303.00 L419.99,303.00 L421.57,303.00 L423.15,303.00 L424.74,303.00 L426.32,303.00 L427.91,303.00 L429.49,303.00 L431.07,303.00 L432.66,303.00 L434.24,303.00 L435.83,303.00 L437.41,303.00 L439.00,303.00 L440.58,303.00 L442.16,303.00 L443.75,303.00 L445.33,303.00 L446.92,303.00 L448.50,303.00" fill="none" stroke="#ff2b2b" stroke-width="2.4" stroke-linecap="round" stroke-dasharray="0.01 5.05"/>
<path d="M258.40,326.70 L259.98,326.67 L261.57,326.57 L263.15,326.40 L264.74,326.16 L266.32,325.86 L267.90,325.50 L269.49,325.07 L271.07,324.58 L272.66,324.02 L274.24,323.41 L275.83,322.74 L277.41,322.01 L278.99,321.23 L280.58,320.39 L282.16,319.51 L283.75,318.58 L285.33,317.60 L286.91,316.58 L288.50,315.52 L290.08,314.43 L291.67,313.30 L293.25,312.14 L294.84,310.95 L296.42,309.74 L298.00,308.50 L299.59,307.25 L301.17,305.99 L302.76,304.72 L304.34,303.43 L305.92,302.15 L307.51,300.87 L309.09,299.58 L310.68,298.31 L312.26,297.05 L313.85,295.80 L315.43,294.56 L317.01,293.35 L318.60,292.16 L320.18,291.00 L321.77,289.88 L323.35,288.78 L324.94,287.72 L326.52,286.70 L328.10,285.72 L329.69,284.79 L331.27,283.91 L332.86,283.07 L334.44,282.29 L336.02,281.56 L337.61,280.89 L339.19,280.28 L340.78,279.72 L342.36,279.23 L343.94,278.80 L345.53,278.44 L347.11,278.14 L348.70,277.90 L350.28,277.73 L351.87,277.63 L353.45,277.60 L355.03,277.63 L356.62,277.73 L358.20,277.90 L359.79,278.14 L361.37,278.44 L362.95,278.80 L364.54,279.23 L366.12,279.72 L367.71,280.28 L369.29,280.89 L370.88,281.56 L372.46,282.29 L374.04,283.07 L375.63,283.91 L377.21,284.79 L378.80,285.72 L380.38,286.70 L381.96,287.72 L383.55,288.78 L385.13,289.88 L386.72,291.00 L388.30,292.16 L389.89,293.35 L391.47,294.56 L393.05,295.80 L394.64,297.05 L396.22,298.31 L397.81,299.58 L399.39,300.87 L400.98,302.15 L402.56,303.43 L404.14,304.72 L405.73,305.99 L407.31,307.25 L408.90,308.50 L410.48,309.74 L412.06,310.95 L413.65,312.14 L415.23,313.30 L416.82,314.43 L418.40,315.52 L419.99,316.58 L421.57,317.60 L423.15,318.58 L424.74,319.51 L426.32,320.39 L427.91,321.23 L429.49,322.01 L431.07,322.74 L432.66,323.41 L434.24,324.02 L435.83,324.58 L437.41,325.07 L439.00,325.50 L440.58,325.86 L442.16,326.16 L443.75,326.40 L445.33,326.57 L446.92,326.67 L448.50,326.70" fill="none" stroke="#000" stroke-width="2.8" stroke-linejoin="round"/>
<path d="M258.40,326.70 L259.98,326.67 L261.57,326.57 L263.15,326.40 L264.74,326.16 L266.32,325.86 L267.90,325.50 L269.49,325.07 L271.07,324.58 L272.66,324.02 L274.24,323.41 L275.83,322.74 L277.41,322.01 L278.99,321.23 L280.58,320.39 L282.16,319.51 L283.75,318.58 L285.33,317.60 L286.91,316.58 L288.50,315.52 L290.08,314.43 L291.67,313.30 L293.25,312.14 L294.84,310.95 L296.42,309.74 L298.00,308.50 L299.59,307.25 L301.17,305.99 L302.76,304.72 L304.34,303.43 L305.92,302.15 L307.51,300.87 L309.09,299.58 L310.68,298.31 L312.26,297.05 L313.85,295.80 L315.43,294.56 L317.01,293.35 L318.60,292.16 L320.18,291.00 L321.77,289.88 L323.35,288.78 L324.94,287.72 L326.52,286.70 L328.10,285.72 L329.69,284.79 L331.27,283.91 L332.86,283.07 L334.44,282.29 L336.02,281.56 L337.61,280.89 L339.19,280.28 L340.78,279.72 L342.36,279.23 L343.94,278.80 L345.53,278.44 L347.11,278.14 L348.70,277.90 L350.28,277.73 L351.87,277.63 L353.45,277.60 L355.03,277.63 L356.62,277.73 L358.20,277.90 L359.79,278.14 L361.37,278.44 L362.95,278.80 L364.54,279.23 L366.12,279.72 L367.71,280.28 L369.29,280.89 L370.88,281.56 L372.46,282.29 L374.04,283.07 L375.63,283.91 L377.21,284.79 L378.80,285.72 L380.38,286.70 L381.96,287.72 L383.55,288.78 L385.13,289.88 L386.72,291.00 L388.30,292.16 L389.89,293.35 L391.47,294.56 L393.05,295.80 L394.64,297.05 L396.22,298.31 L397.81,299.58 L399.39,300.87 L400.98,302.15 L402.56,303.43 L404.14,304.72 L405.73,305.99 L407.31,307.25 L408.90,308.50 L410.48,309.74 L412.06,310.95 L413.65,312.14 L415.23,313.30 L416.82,314.43 L418.40,315.52 L419.99,316.58 L421.57,317.60 L423.15,318.58 L424.74,319.51 L426.32,320.39 L427.91,321.23 L429.49,322.01 L431.07,322.74 L432.66,323.41 L434.24,324.02 L435.83,324.58 L437.41,325.07 L439.00,325.50 L440.58,325.86 L442.16,326.16 L443.75,326.40 L445.33,326.57 L446.92,326.67 L448.50,326.70" fill="none" stroke="#0b1af0" stroke-width="2.6" stroke-dasharray="6.5 4"/>
<line x1="262.4" y1="236.2" x2="281" y2="236.2" stroke="#0b1af0" stroke-width="2.8" stroke-dasharray="6.5 4.5"/>
<line x1="263" y1="251.3" x2="281" y2="251.3" stroke="#ff2b2b" stroke-width="2" stroke-linecap="round" stroke-dasharray="0.01 5"/>
<line x1="262.4" y1="265.4" x2="281" y2="265.4" stroke="#000" stroke-width="3"/>
<text x="287.8" y="240.2" font-family="Liberation Sans" font-size="10.3" fill="#111">Effective anisotropy energy <tspan font-style="italic">E</tspan><tspan font-size="6.9" dy="2.3">EA</tspan></text>
<text x="287.8" y="254.7" font-family="Liberation Sans" font-size="10.3" fill="#111">Dipolar coupling energy <tspan font-style="italic">E</tspan><tspan font-size="6.9" dy="2.3">MC</tspan></text>
<text x="287.8" y="269.6" font-family="Liberation Sans" font-size="10.3" fill="#111"><tspan font-style="italic">E</tspan><tspan font-size="6.9" dy="2.3">EA</tspan><tspan dy="-2.3"> + </tspan><tspan font-style="italic">E</tspan><tspan font-size="6.9" dy="2.3">MC</tspan></text>
<text x="322.1" y="327.7" font-family="Liberation Sans" font-size="11.4" letter-spacing="0.35" fill="#111"><tspan font-style="italic">N</tspan><tspan font-size="8.2" dy="2.6">Co</tspan><tspan dy="-2.6"> = 3</tspan></text><text x="322.1" y="345.5" font-family="Liberation Sans" font-size="11.4" letter-spacing="0.35" fill="#111"><tspan font-style="italic">t</tspan><tspan font-size="8.2" dy="2.6">Co</tspan><tspan dy="-2.6"> = 0.5 nm</tspan></text><text x="322.1" y="363.3" font-family="Liberation Sans" font-size="11.4" letter-spacing="0.35" fill="#111"><tspan font-style="italic">t</tspan><tspan font-size="8.2" dy="2.6">Pt</tspan><tspan dy="-2.6">&#160; = 1.0 nm</tspan></text>
<text x="399.3" y="282.4" font-family="Liberation Sans" font-size="12.3" fill="#111">10<tspan font-size="8.4" dy="-4.6">3</tspan><tspan dy="4.6"> </tspan><tspan font-style="italic">k</tspan><tspan font-size="8.9" dy="2.4">B</tspan><tspan dy="-2.4" font-style="italic">T</tspan></text>
<line x1="444.7" y1="261" x2="444.7" y2="271.5" stroke="#000" stroke-width="0.7"/><polygon points="444.7,274.4 443.2,270.5 446.2,270.5" fill="#000"/><line x1="442.09999999999997" y1="275" x2="447.3" y2="275" stroke="#000" stroke-width="0.6"/><line x1="444.7" y1="295" x2="444.7" y2="284.5" stroke="#000" stroke-width="0.7"/><polygon points="444.7,281.6 443.2,285.5 446.2,285.5" fill="#000"/><line x1="442.09999999999997" y1="281" x2="447.3" y2="281" stroke="#000" stroke-width="0.6"/>
<text x="258.40" y="393.7" text-anchor="middle" font-family="Liberation Sans" font-size="11.8" fill="#111">0</text><text x="353.45" y="393.7" text-anchor="middle" font-family="Liberation Sans" font-size="11.8" fill="#111">90</text><text x="448.50" y="393.7" text-anchor="middle" font-family="Liberation Sans" font-size="11.8" fill="#111">180</text><text x="353.45" y="408.4" text-anchor="middle" font-family="Liberation Sans" font-size="11.3" letter-spacing="0.42" fill="#111">Polar angle <tspan dx="1.8" font-family="Liberation Serif" font-style="italic" font-size="12">θ</tspan><tspan dx="1.6">(°)</tspan></text>
<ellipse cx="243.2" cy="373.6" rx="12" ry="6.2" fill="#15303f"/><rect x="231.2" y="369" width="24" height="4.6" fill="#15303f"/><ellipse cx="243.2" cy="369" rx="12" ry="6.2" fill="#1f4459"/>
<rect x="242.75" y="360.4" width="1.5" height="8.100000000000023" fill="#000"/><polygon points="243.5,352.7 240.6,360.9 246.4,360.9" fill="#000"/>
<ellipse cx="266.5" cy="364.4" rx="11.4" ry="5.5" fill="#4a3a0e"/><rect x="255.1" y="359.9" width="22.8" height="4.5" fill="#4a3a0e"/><ellipse cx="266.5" cy="359.9" rx="11.4" ry="5.5" fill="#655213"/>
<rect x="265.75" y="352.2" width="1.5" height="7.300000000000011" fill="#000"/><polygon points="266.5,344 263.6,352.7 269.4,352.7" fill="#000"/>
<ellipse cx="433.2" cy="373.6" rx="11.65" ry="6.2" fill="#15303f"/><rect x="421.55" y="369" width="23.3" height="4.6" fill="#15303f"/><ellipse cx="433.2" cy="369" rx="11.65" ry="6.2" fill="#1f4459"/>
<rect x="432.3" y="352.5" width="1.6" height="10" fill="url(#gDown)"/><polygon points="433.1,368.5 430.2,361 436,361" fill="url(#gDown)"/>
<ellipse cx="456.5" cy="364.4" rx="11.4" ry="5.5" fill="#4a3a0e"/><rect x="445.1" y="359.9" width="22.8" height="4.5" fill="#4a3a0e"/><ellipse cx="456.5" cy="359.9" rx="11.4" ry="5.5" fill="#655213"/>
<rect x="455.75" y="352.4" width="1.5" height="7.100000000000023" fill="#000"/><polygon points="456.5,344.3 453.6,352.9 459.4,352.9" fill="#000"/>
<line x1="485.5" y1="232.04" x2="675.2" y2="232.04" stroke="#e0e0e0" stroke-width="0.8" stroke-dasharray="1.6 1.4"/>
<line x1="485.5" y1="237.48" x2="675.2" y2="237.48" stroke="#e0e0e0" stroke-width="0.8" stroke-dasharray="1.6 1.4"/>
<line x1="485.5" y1="242.92" x2="675.2" y2="242.92" stroke="#e0e0e0" stroke-width="0.8" stroke-dasharray="1.6 1.4"/>
<line x1="485.5" y1="253.80" x2="675.2" y2="253.80" stroke="#e0e0e0" stroke-width="0.8" stroke-dasharray="1.6 1.4"/>
<line x1="485.5" y1="259.24" x2="675.2" y2="259.24" stroke="#e0e0e0" stroke-width="0.8" stroke-dasharray="1.6 1.4"/>
<line x1="485.5" y1="264.68" x2="675.2" y2="264.68" stroke="#e0e0e0" stroke-width="0.8" stroke-dasharray="1.6 1.4"/>
<line x1="485.5" y1="270.12" x2="675.2" y2="270.12" stroke="#e0e0e0" stroke-width="0.8" stroke-dasharray="1.6 1.4"/>
<line x1="485.5" y1="275.56" x2="675.2" y2="275.56" stroke="#e0e0e0" stroke-width="0.8" stroke-dasharray="1.6 1.4"/>
<line x1="485.5" y1="281.00" x2="675.2" y2="281.00" stroke="#e0e0e0" stroke-width="0.8" stroke-dasharray="1.6 1.4"/>
<line x1="485.5" y1="286.44" x2="675.2" y2="286.44" stroke="#e0e0e0" stroke-width="0.8" stroke-dasharray="1.6 1.4"/>
<line x1="485.5" y1="291.88" x2="675.2" y2="291.88" stroke="#e0e0e0" stroke-width="0.8" stroke-dasharray="1.6 1.4"/>
<line x1="485.5" y1="297.32" x2="675.2" y2="297.32" stroke="#e0e0e0" stroke-width="0.8" stroke-dasharray="1.6 1.4"/>
<line x1="485.5" y1="308.20" x2="675.2" y2="308.20" stroke="#e0e0e0" stroke-width="0.8" stroke-dasharray="1.6 1.4"/>
<line x1="485.5" y1="313.64" x2="675.2" y2="313.64" stroke="#e0e0e0" stroke-width="0.8" stroke-dasharray="1.6 1.4"/>
<line x1="485.5" y1="319.08" x2="675.2" y2="319.08" stroke="#e0e0e0" stroke-width="0.8" stroke-dasharray="1.6 1.4"/>
<line x1="485.5" y1="324.52" x2="675.2" y2="324.52" stroke="#e0e0e0" stroke-width="0.8" stroke-dasharray="1.6 1.4"/>
<line x1="485.5" y1="329.96" x2="675.2" y2="329.96" stroke="#e0e0e0" stroke-width="0.8" stroke-dasharray="1.6 1.4"/>
<line x1="485.5" y1="335.40" x2="675.2" y2="335.40" stroke="#e0e0e0" stroke-width="0.8" stroke-dasharray="1.6 1.4"/>
<line x1="485.5" y1="340.84" x2="675.2" y2="340.84" stroke="#e0e0e0" stroke-width="0.8" stroke-dasharray="1.6 1.4"/>
<line x1="485.5" y1="346.28" x2="675.2" y2="346.28" stroke="#e0e0e0" stroke-width="0.8" stroke-dasharray="1.6 1.4"/>
<line x1="485.5" y1="351.72" x2="675.2" y2="351.72" stroke="#e0e0e0" stroke-width="0.8" stroke-dasharray="1.6 1.4"/>
<line x1="485.5" y1="362.60" x2="675.2" y2="362.60" stroke="#e0e0e0" stroke-width="0.8" stroke-dasharray="1.6 1.4"/>
<line x1="485.5" y1="368.04" x2="675.2" y2="368.04" stroke="#e0e0e0" stroke-width="0.8" stroke-dasharray="1.6 1.4"/>
<line x1="485.5" y1="373.48" x2="675.2" y2="373.48" stroke="#e0e0e0" stroke-width="0.8" stroke-dasharray="1.6 1.4"/>
<line x1="485.5" y1="248.6" x2="675.2" y2="248.6" stroke="#c9c9c9" stroke-width="0.9"/>
<line x1="485.5" y1="303.0" x2="675.2" y2="303.0" stroke="#c9c9c9" stroke-width="0.9"/>
<line x1="485.5" y1="357.4" x2="675.2" y2="357.4" stroke="#c9c9c9" stroke-width="0.9"/>
<line x1="485.5" y1="224.3" x2="485.5" y2="378.8" stroke="#333" stroke-width="1"/>
<line x1="675.2" y1="224.3" x2="675.2" y2="378.8" stroke="#333" stroke-width="1"/>
<line x1="485.5" y1="226.3" x2="675.2" y2="226.3" stroke="#444" stroke-width="1"/>
<line x1="485.5" y1="378.8" x2="675.2" y2="378.8" stroke="#9a9a9a" stroke-width="1.8"/>
<line x1="580.35" y1="223.3" x2="580.35" y2="226.3" stroke="#333" stroke-width="1"/>
<line x1="485.5" y1="378.8" x2="485.5" y2="381.8" stroke="#555" stroke-width="1"/>
<line x1="580.35" y1="378.8" x2="580.35" y2="381.8" stroke="#555" stroke-width="1"/>
<line x1="675.2" y1="378.8" x2="675.2" y2="381.8" stroke="#555" stroke-width="1"/>
<line x1="484.2" y1="232.04" x2="486.8" y2="232.04" stroke="#333" stroke-width="0.9"/>
<line x1="673.9000000000001" y1="232.04" x2="676.5" y2="232.04" stroke="#333" stroke-width="0.9"/>
<line x1="484.2" y1="237.48" x2="486.8" y2="237.48" stroke="#333" stroke-width="0.9"/>
<line x1="673.9000000000001" y1="237.48" x2="676.5" y2="237.48" stroke="#333" stroke-width="0.9"/>
<line x1="484.2" y1="242.92" x2="486.8" y2="242.92" stroke="#333" stroke-width="0.9"/>
<line x1="673.9000000000001" y1="242.92" x2="676.5" y2="242.92" stroke="#333" stroke-width="0.9"/>
<line x1="484.2" y1="253.80" x2="486.8" y2="253.80" stroke="#333" stroke-width="0.9"/>
<line x1="673.9000000000001" y1="253.80" x2="676.5" y2="253.80" stroke="#333" stroke-width="0.9"/>
<line x1="484.2" y1="259.24" x2="486.8" y2="259.24" stroke="#333" stroke-width="0.9"/>
<line x1="673.9000000000001" y1="259.24" x2="676.5" y2="259.24" stroke="#333" stroke-width="0.9"/>
<line x1="484.2" y1="264.68" x2="486.8" y2="264.68" stroke="#333" stroke-width="0.9"/>
<line x1="673.9000000000001" y1="264.68" x2="676.5" y2="264.68" stroke="#333" stroke-width="0.9"/>
<line x1="484.2" y1="270.12" x2="486.8" y2="270.12" stroke="#333" stroke-width="0.9"/>
<line x1="673.9000000000001" y1="270.12" x2="676.5" y2="270.12" stroke="#333" stroke-width="0.9"/>
<line x1="484.2" y1="275.56" x2="486.8" y2="275.56" stroke="#333" stroke-width="0.9"/>
<line x1="673.9000000000001" y1="275.56" x2="676.5" y2="275.56" stroke="#333" stroke-width="0.9"/>
<line x1="484.2" y1="281.00" x2="486.8" y2="281.00" stroke="#333" stroke-width="0.9"/>
<line x1="673.9000000000001" y1="281.00" x2="676.5" y2="281.00" stroke="#333" stroke-width="0.9"/>
<line x1="484.2" y1="286.44" x2="486.8" y2="286.44" stroke="#333" stroke-width="0.9"/>
<line x1="673.9000000000001" y1="286.44" x2="676.5" y2="286.44" stroke="#333" stroke-width="0.9"/>
<line x1="484.2" y1="291.88" x2="486.8" y2="291.88" stroke="#333" stroke-width="0.9"/>
<line x1="673.9000000000001" y1="291.88" x2="676.5" y2="291.88" stroke="#333" stroke-width="0.9"/>
<line x1="484.2" y1="297.32" x2="486.8" y2="297.32" stroke="#333" stroke-width="0.9"/>
<line x1="673.9000000000001" y1="297.32" x2="676.5" y2="297.32" stroke="#333" stroke-width="0.9"/>
<line x1="484.2" y1="308.20" x2="486.8" y2="308.20" stroke="#333" stroke-width="0.9"/>
<line x1="673.9000000000001" y1="308.20" x2="676.5" y2="308.20" stroke="#333" stroke-width="0.9"/>
<line x1="484.2" y1="313.64" x2="486.8" y2="313.64" stroke="#333" stroke-width="0.9"/>
<line x1="673.9000000000001" y1="313.64" x2="676.5" y2="313.64" stroke="#333" stroke-width="0.9"/>
<line x1="484.2" y1="319.08" x2="486.8" y2="319.08" stroke="#333" stroke-width="0.9"/>
<line x1="673.9000000000001" y1="319.08" x2="676.5" y2="319.08" stroke="#333" stroke-width="0.9"/>
<line x1="484.2" y1="324.52" x2="486.8" y2="324.52" stroke="#333" stroke-width="0.9"/>
<line x1="673.9000000000001" y1="324.52" x2="676.5" y2="324.52" stroke="#333" stroke-width="0.9"/>
<line x1="484.2" y1="329.96" x2="486.8" y2="329.96" stroke="#333" stroke-width="0.9"/>
<line x1="673.9000000000001" y1="329.96" x2="676.5" y2="329.96" stroke="#333" stroke-width="0.9"/>
<line x1="484.2" y1="335.40" x2="486.8" y2="335.40" stroke="#333" stroke-width="0.9"/>
<line x1="673.9000000000001" y1="335.40" x2="676.5" y2="335.40" stroke="#333" stroke-width="0.9"/>
<line x1="484.2" y1="340.84" x2="486.8" y2="340.84" stroke="#333" stroke-width="0.9"/>
<line x1="673.9000000000001" y1="340.84" x2="676.5" y2="340.84" stroke="#333" stroke-width="0.9"/>
<line x1="484.2" y1="346.28" x2="486.8" y2="346.28" stroke="#333" stroke-width="0.9"/>
<line x1="673.9000000000001" y1="346.28" x2="676.5" y2="346.28" stroke="#333" stroke-width="0.9"/>
<line x1="484.2" y1="351.72" x2="486.8" y2="351.72" stroke="#333" stroke-width="0.9"/>
<line x1="673.9000000000001" y1="351.72" x2="676.5" y2="351.72" stroke="#333" stroke-width="0.9"/>
<line x1="484.2" y1="362.60" x2="486.8" y2="362.60" stroke="#333" stroke-width="0.9"/>
<line x1="673.9000000000001" y1="362.60" x2="676.5" y2="362.60" stroke="#333" stroke-width="0.9"/>
<line x1="484.2" y1="368.04" x2="486.8" y2="368.04" stroke="#333" stroke-width="0.9"/>
<line x1="673.9000000000001" y1="368.04" x2="676.5" y2="368.04" stroke="#333" stroke-width="0.9"/>
<line x1="484.2" y1="373.48" x2="486.8" y2="373.48" stroke="#333" stroke-width="0.9"/>
<line x1="673.9000000000001" y1="373.48" x2="676.5" y2="373.48" stroke="#333" stroke-width="0.9"/>
<line x1="484.2" y1="226.60" x2="486.8" y2="226.60" stroke="#333" stroke-width="0.9"/>
<line x1="673.9000000000001" y1="226.60" x2="676.5" y2="226.60" stroke="#333" stroke-width="0.9"/>
<line x1="481.7" y1="248.6" x2="486.0" y2="248.6" stroke="#555" stroke-width="1"/>
<line x1="674.7" y1="248.6" x2="679.0" y2="248.6" stroke="#555" stroke-width="1"/>
<line x1="481.7" y1="303.0" x2="486.0" y2="303.0" stroke="#555" stroke-width="1"/>
<line x1="674.7" y1="303.0" x2="679.0" y2="303.0" stroke="#555" stroke-width="1"/>
<line x1="481.7" y1="357.4" x2="486.0" y2="357.4" stroke="#555" stroke-width="1"/>
<line x1="674.7" y1="357.4" x2="679.0" y2="357.4" stroke="#555" stroke-width="1"/>
<rect x="547.5" y="316" width="68.5" height="51" fill="#fff"/>
<rect x="626" y="270" width="43" height="15" fill="#fff"/>
<path d="M485.50,303.00 L487.08,303.00 L488.66,303.00 L490.24,303.00 L491.82,303.00 L493.40,303.00 L494.99,303.00 L496.57,303.00 L498.15,303.00 L499.73,303.00 L501.31,303.00 L502.89,303.00 L504.47,303.00 L506.05,303.00 L507.63,303.00 L509.21,303.00 L510.79,303.00 L512.37,303.00 L513.96,303.00 L515.54,303.00 L517.12,303.00 L518.70,303.00 L520.28,303.00 L521.86,303.00 L523.44,303.00 L525.02,303.00 L526.60,303.00 L528.18,303.00 L529.76,303.00 L531.34,303.00 L532.92,303.00 L534.51,303.00 L536.09,303.00 L537.67,303.00 L539.25,303.00 L540.83,303.00 L542.41,303.00 L543.99,303.00 L545.57,303.00 L547.15,303.00 L548.73,303.00 L550.31,303.00 L551.89,303.00 L553.48,303.00 L555.06,303.00 L556.64,303.00 L558.22,303.00 L559.80,303.00 L561.38,303.00 L562.96,303.00 L564.54,303.00 L566.12,303.00 L567.70,303.00 L569.28,303.00 L570.87,303.00 L572.45,303.00 L574.03,303.00 L575.61,303.00 L577.19,303.00 L578.77,303.00 L580.35,303.00 L581.93,303.00 L583.51,303.00 L585.09,303.00 L586.67,303.00 L588.25,303.00 L589.84,303.00 L591.42,303.00 L593.00,303.00 L594.58,303.00 L596.16,303.00 L597.74,303.00 L599.32,303.00 L600.90,303.00 L602.48,303.00 L604.06,303.00 L605.64,303.00 L607.22,303.00 L608.81,303.00 L610.39,303.00 L611.97,303.00 L613.55,303.00 L615.13,303.00 L616.71,303.00 L618.29,303.00 L619.87,303.00 L621.45,303.00 L623.03,303.00 L624.61,303.00 L626.19,303.00 L627.78,303.00 L629.36,303.00 L630.94,303.00 L632.52,303.00 L634.10,303.00 L635.68,303.00 L637.26,303.00 L638.84,303.00 L640.42,303.00 L642.00,303.00 L643.58,303.00 L645.16,303.00 L646.75,303.00 L648.33,303.00 L649.91,303.00 L651.49,303.00 L653.07,303.00 L654.65,303.00 L656.23,303.00 L657.81,303.00 L659.39,303.00 L660.97,303.00 L662.55,303.00 L664.13,303.00 L665.72,303.00 L667.30,303.00 L668.88,303.00 L670.46,303.00 L672.04,303.00 L673.62,303.00 L675.20,303.00" fill="none" stroke="#ff2b2b" stroke-width="2.4" stroke-linecap="round" stroke-dasharray="0.01 5.05"/>
<path d="M485.50,371.70 L487.08,371.60 L488.66,371.32 L490.24,370.84 L491.82,370.18 L493.40,369.32 L494.99,368.29 L496.57,367.07 L498.15,365.67 L499.73,364.10 L501.31,362.36 L502.89,360.45 L504.47,358.38 L506.05,356.16 L507.63,353.78 L509.21,351.27 L510.79,348.62 L512.37,345.85 L513.96,342.95 L515.54,339.94 L517.12,336.82 L518.70,333.62 L520.28,330.32 L521.86,326.95 L523.44,323.50 L525.02,320.00 L526.60,316.45 L528.18,312.86 L529.76,309.24 L531.34,305.60 L532.92,301.95 L534.51,298.30 L536.09,294.66 L537.67,291.04 L539.25,287.45 L540.83,283.90 L542.41,280.40 L543.99,276.95 L545.57,273.58 L547.15,270.28 L548.73,267.07 L550.31,263.96 L551.89,260.95 L553.48,258.05 L555.06,255.28 L556.64,252.63 L558.22,250.12 L559.80,247.74 L561.38,245.52 L562.96,243.45 L564.54,241.54 L566.12,239.80 L567.70,238.23 L569.28,236.83 L570.87,235.61 L572.45,234.58 L574.03,233.72 L575.61,233.06 L577.19,232.58 L578.77,232.30 L580.35,232.20 L581.93,232.30 L583.51,232.58 L585.09,233.06 L586.67,233.72 L588.25,234.58 L589.84,235.61 L591.42,236.83 L593.00,238.23 L594.58,239.80 L596.16,241.54 L597.74,243.45 L599.32,245.52 L600.90,247.74 L602.48,250.12 L604.06,252.63 L605.64,255.28 L607.22,258.05 L608.81,260.95 L610.39,263.96 L611.97,267.07 L613.55,270.28 L615.13,273.58 L616.71,276.95 L618.29,280.40 L619.87,283.90 L621.45,287.45 L623.03,291.04 L624.61,294.66 L626.19,298.30 L627.78,301.95 L629.36,305.60 L630.94,309.24 L632.52,312.86 L634.10,316.45 L635.68,320.00 L637.26,323.50 L638.84,326.95 L640.42,330.32 L642.00,333.62 L643.58,336.82 L645.16,339.94 L646.75,342.95 L648.33,345.85 L649.91,348.62 L651.49,351.27 L653.07,353.78 L654.65,356.16 L656.23,358.38 L657.81,360.45 L659.39,362.36 L660.97,364.10 L662.55,365.67 L664.13,367.07 L665.72,368.29 L667.30,369.32 L668.88,370.18 L670.46,370.84 L672.04,371.32 L673.62,371.60 L675.20,371.70" fill="none" stroke="#000" stroke-width="2.8" stroke-linejoin="round"/>
<path d="M485.50,371.70 L487.08,371.60 L488.66,371.32 L490.24,370.84 L491.82,370.18 L493.40,369.32 L494.99,368.29 L496.57,367.07 L498.15,365.67 L499.73,364.10 L501.31,362.36 L502.89,360.45 L504.47,358.38 L506.05,356.16 L507.63,353.78 L509.21,351.27 L510.79,348.62 L512.37,345.85 L513.96,342.95 L515.54,339.94 L517.12,336.82 L518.70,333.62 L520.28,330.32 L521.86,326.95 L523.44,323.50 L525.02,320.00 L526.60,316.45 L528.18,312.86 L529.76,309.24 L531.34,305.60 L532.92,301.95 L534.51,298.30 L536.09,294.66 L537.67,291.04 L539.25,287.45 L540.83,283.90 L542.41,280.40 L543.99,276.95 L545.57,273.58 L547.15,270.28 L548.73,267.07 L550.31,263.96 L551.89,260.95 L553.48,258.05 L555.06,255.28 L556.64,252.63 L558.22,250.12 L559.80,247.74 L561.38,245.52 L562.96,243.45 L564.54,241.54 L566.12,239.80 L567.70,238.23 L569.28,236.83 L570.87,235.61 L572.45,234.58 L574.03,233.72 L575.61,233.06 L577.19,232.58 L578.77,232.30 L580.35,232.20 L581.93,232.30 L583.51,232.58 L585.09,233.06 L586.67,233.72 L588.25,234.58 L589.84,235.61 L591.42,236.83 L593.00,238.23 L594.58,239.80 L596.16,241.54 L597.74,243.45 L599.32,245.52 L600.90,247.74 L602.48,250.12 L604.06,252.63 L605.64,255.28 L607.22,258.05 L608.81,260.95 L610.39,263.96 L611.97,267.07 L613.55,270.28 L615.13,273.58 L616.71,276.95 L618.29,280.40 L619.87,283.90 L621.45,287.45 L623.03,291.04 L624.61,294.66 L626.19,298.30 L627.78,301.95 L629.36,305.60 L630.94,309.24 L632.52,312.86 L634.10,316.45 L635.68,320.00 L637.26,323.50 L638.84,326.95 L640.42,330.32 L642.00,333.62 L643.58,336.82 L645.16,339.94 L646.75,342.95 L648.33,345.85 L649.91,348.62 L651.49,351.27 L653.07,353.78 L654.65,356.16 L656.23,358.38 L657.81,360.45 L659.39,362.36 L660.97,364.10 L662.55,365.67 L664.13,367.07 L665.72,368.29 L667.30,369.32 L668.88,370.18 L670.46,370.84 L672.04,371.32 L673.62,371.60 L675.20,371.70" fill="none" stroke="#0b1af0" stroke-width="2.6" stroke-dasharray="6.5 4"/>
<text x="548.9" y="327.6" font-family="Liberation Sans" font-size="11.4" letter-spacing="0.35" fill="#111"><tspan font-style="italic">N</tspan><tspan font-size="8.2" dy="2.6">Co</tspan><tspan dy="-2.6"> <tspan font-weight="bold">=</tspan> <tspan font-weight="bold">8</tspan></tspan></text><text x="548.9" y="345.5" font-family="Liberation Sans" font-size="11.4" letter-spacing="0.35" fill="#111"><tspan font-style="italic">t</tspan><tspan font-size="8.2" dy="2.6">Co</tspan><tspan dy="-2.6"> = 0.5 nm</tspan></text><text x="548.9" y="363.40000000000003" font-family="Liberation Sans" font-size="11.4" letter-spacing="0.35" fill="#111"><tspan font-style="italic">t</tspan><tspan font-size="8.2" dy="2.6">Pt</tspan><tspan dy="-2.6">&#160; = 1.0 nm</tspan></text>
<text x="626.5" y="281.6" font-family="Liberation Sans" font-size="12.3" fill="#111">10<tspan font-size="8.4" dy="-4.6">3</tspan><tspan dy="4.6"> </tspan><tspan font-style="italic">k</tspan><tspan font-size="8.9" dy="2.4">B</tspan><tspan dy="-2.4" font-style="italic">T</tspan></text>
<line x1="671.5" y1="261" x2="671.5" y2="271.5" stroke="#000" stroke-width="0.7"/><polygon points="671.5,274.4 670.0,270.5 673.0,270.5" fill="#000"/><line x1="668.9" y1="275" x2="674.1" y2="275" stroke="#000" stroke-width="0.6"/><line x1="671.5" y1="295" x2="671.5" y2="284.5" stroke="#000" stroke-width="0.7"/><polygon points="671.5,281.6 670.0,285.5 673.0,285.5" fill="#000"/><line x1="668.9" y1="281" x2="674.1" y2="281" stroke="#000" stroke-width="0.6"/>
<text x="485.50" y="393.7" text-anchor="middle" font-family="Liberation Sans" font-size="11.8" fill="#111">0</text><text x="580.35" y="393.7" text-anchor="middle" font-family="Liberation Sans" font-size="11.8" fill="#111">90</text><text x="675.20" y="393.7" text-anchor="middle" font-family="Liberation Sans" font-size="11.8" fill="#111">180</text><text x="580.35" y="408.4" text-anchor="middle" font-family="Liberation Sans" font-size="11.3" letter-spacing="0.42" fill="#111">Polar angle <tspan dx="1.8" font-family="Liberation Serif" font-style="italic" font-size="12">θ</tspan><tspan dx="1.6">(°)</tspan></text>
<line x1="20" y1="446.80" x2="209.4" y2="446.80" stroke="#d6d6d6" stroke-width="0.7" stroke-dasharray="2.4 1.8"/>
<line x1="20" y1="465.90" x2="209.4" y2="465.90" stroke="#d6d6d6" stroke-width="0.7" stroke-dasharray="2.4 1.8"/>
<line x1="20" y1="485.00" x2="209.4" y2="485.00" stroke="#d6d6d6" stroke-width="0.7" stroke-dasharray="2.4 1.8"/>
<line x1="20" y1="504.10" x2="209.4" y2="504.10" stroke="#d6d6d6" stroke-width="0.7" stroke-dasharray="2.4 1.8"/>
<line x1="20" y1="523.20" x2="209.4" y2="523.20" stroke="#d6d6d6" stroke-width="0.7" stroke-dasharray="2.4 1.8"/>
<line x1="20" y1="542.30" x2="209.4" y2="542.30" stroke="#d6d6d6" stroke-width="0.7" stroke-dasharray="2.4 1.8"/>
<line x1="20" y1="561.40" x2="209.4" y2="561.40" stroke="#d6d6d6" stroke-width="0.7" stroke-dasharray="2.4 1.8"/>
<line x1="20" y1="580.50" x2="209.4" y2="580.50" stroke="#d6d6d6" stroke-width="0.7" stroke-dasharray="2.4 1.8"/>
<line x1="20" y1="435.4" x2="20" y2="590.6" stroke="#8c8c8c" stroke-width="1.9"/>
<line x1="209.4" y1="435.4" x2="209.4" y2="590.6" stroke="#444" stroke-width="1.1"/>
<line x1="20" y1="437.4" x2="209.4" y2="437.4" stroke="#555" stroke-width="1"/>
<line x1="20" y1="590.6" x2="209.4" y2="590.6" stroke="#333" stroke-width="1.2"/>
<line x1="114.7" y1="434.4" x2="114.7" y2="437.4" stroke="#333" stroke-width="1"/>
<line x1="114.7" y1="587.6" x2="114.7" y2="590.6" stroke="#333" stroke-width="1"/>
<line x1="16.8" y1="446.80" x2="23.2" y2="446.80" stroke="#333" stroke-width="1"/>
<line x1="206.20000000000002" y1="446.80" x2="212.6" y2="446.80" stroke="#333" stroke-width="1"/>
<line x1="16.8" y1="465.90" x2="23.2" y2="465.90" stroke="#333" stroke-width="1"/>
<line x1="206.20000000000002" y1="465.90" x2="212.6" y2="465.90" stroke="#333" stroke-width="1"/>
<line x1="16.8" y1="485.00" x2="23.2" y2="485.00" stroke="#333" stroke-width="1"/>
<line x1="206.20000000000002" y1="485.00" x2="212.6" y2="485.00" stroke="#333" stroke-width="1"/>
<line x1="16.8" y1="504.10" x2="23.2" y2="504.10" stroke="#333" stroke-width="1"/>
<line x1="206.20000000000002" y1="504.10" x2="212.6" y2="504.10" stroke="#333" stroke-width="1"/>
<line x1="16.8" y1="523.20" x2="23.2" y2="523.20" stroke="#333" stroke-width="1"/>
<line x1="206.20000000000002" y1="523.20" x2="212.6" y2="523.20" stroke="#333" stroke-width="1"/>
<line x1="16.8" y1="542.30" x2="23.2" y2="542.30" stroke="#333" stroke-width="1"/>
<line x1="206.20000000000002" y1="542.30" x2="212.6" y2="542.30" stroke="#333" stroke-width="1"/>
<line x1="16.8" y1="561.40" x2="23.2" y2="561.40" stroke="#333" stroke-width="1"/>
<line x1="206.20000000000002" y1="561.40" x2="212.6" y2="561.40" stroke="#333" stroke-width="1"/>
<line x1="16.8" y1="580.50" x2="23.2" y2="580.50" stroke="#333" stroke-width="1"/>
<line x1="206.20000000000002" y1="580.50" x2="212.6" y2="580.50" stroke="#333" stroke-width="1"/>
<rect x="78" y="532" width="75" height="51" fill="#fff"/>
<rect x="160" y="468" width="44" height="15" fill="#fff"/>
<path d="M20.00,489.90 L21.58,489.90 L23.16,489.92 L24.73,489.94 L26.31,489.98 L27.89,490.02 L29.47,490.08 L31.05,490.14 L32.63,490.21 L34.20,490.30 L35.78,490.39 L37.36,490.49 L38.94,490.60 L40.52,490.72 L42.10,490.85 L43.67,490.99 L45.25,491.14 L46.83,491.30 L48.41,491.46 L49.99,491.64 L51.57,491.82 L53.14,492.01 L54.72,492.22 L56.30,492.42 L57.88,492.64 L59.46,492.87 L61.04,493.10 L62.62,493.34 L64.19,493.59 L65.77,493.84 L67.35,494.10 L68.93,494.37 L70.51,494.65 L72.09,494.93 L73.66,495.22 L75.24,495.51 L76.82,495.82 L78.40,496.12 L79.98,496.43 L81.56,496.75 L83.13,497.07 L84.71,497.40 L86.29,497.74 L87.87,498.07 L89.45,498.41 L91.03,498.76 L92.60,499.11 L94.18,499.46 L95.76,499.82 L97.34,500.17 L98.92,500.54 L100.50,500.90 L102.07,501.27 L103.65,501.63 L105.23,502.01 L106.81,502.38 L108.39,502.75 L109.97,503.12 L111.54,503.50 L113.12,503.87 L114.70,504.25 L116.28,504.63 L117.86,505.00 L119.44,505.38 L121.01,505.75 L122.59,506.12 L124.17,506.49 L125.75,506.87 L127.33,507.23 L128.91,507.60 L130.48,507.96 L132.06,508.33 L133.64,508.68 L135.22,509.04 L136.80,509.39 L138.38,509.74 L139.95,510.09 L141.53,510.43 L143.11,510.76 L144.69,511.10 L146.27,511.43 L147.85,511.75 L149.42,512.07 L151.00,512.38 L152.58,512.68 L154.16,512.99 L155.74,513.28 L157.31,513.57 L158.89,513.85 L160.47,514.13 L162.05,514.40 L163.63,514.66 L165.21,514.91 L166.78,515.16 L168.36,515.40 L169.94,515.63 L171.52,515.86 L173.10,516.08 L174.68,516.28 L176.25,516.49 L177.83,516.68 L179.41,516.86 L180.99,517.04 L182.57,517.20 L184.15,517.36 L185.72,517.51 L187.30,517.65 L188.88,517.78 L190.46,517.90 L192.04,518.01 L193.62,518.11 L195.20,518.20 L196.77,518.29 L198.35,518.36 L199.93,518.42 L201.51,518.48 L203.09,518.52 L204.66,518.56 L206.24,518.58 L207.82,518.60 L209.40,518.60" fill="none" stroke="#ff2b2b" stroke-width="2.4" stroke-linecap="round" stroke-dasharray="0.01 5.05"/>
<path d="M20.00,544.20 L21.58,544.13 L23.16,543.92 L24.73,543.57 L26.31,543.08 L27.89,542.45 L29.47,541.69 L31.05,540.80 L32.63,539.77 L34.20,538.62 L35.78,537.34 L37.36,535.94 L38.94,534.43 L40.52,532.80 L42.10,531.06 L43.67,529.23 L45.25,527.29 L46.83,525.27 L48.41,523.15 L49.99,520.96 L51.57,518.70 L53.14,516.37 L54.72,513.97 L56.30,511.53 L57.88,509.04 L59.46,506.51 L61.04,503.95 L62.62,501.37 L64.19,498.77 L65.77,496.16 L67.35,493.55 L68.93,490.95 L70.51,488.36 L72.09,485.80 L73.66,483.27 L75.24,480.77 L76.82,478.32 L78.40,475.92 L79.98,473.57 L81.56,471.30 L83.13,469.10 L84.71,466.98 L86.29,464.95 L87.87,463.00 L89.45,461.16 L91.03,459.42 L92.60,457.80 L94.18,456.28 L95.76,454.89 L97.34,453.62 L98.92,452.48 L100.50,451.48 L102.07,450.61 L103.65,449.88 L105.23,449.29 L106.81,448.85 L108.39,448.55 L109.97,448.40 L111.54,448.40 L113.12,448.55 L114.70,448.85 L116.28,449.30 L117.86,449.90 L119.44,450.65 L121.01,451.55 L122.59,452.59 L124.17,453.78 L125.75,455.11 L127.33,456.58 L128.91,458.18 L130.48,459.91 L132.06,461.77 L133.64,463.76 L135.22,465.86 L136.80,468.08 L138.38,470.41 L139.95,472.83 L141.53,475.36 L143.11,477.97 L144.69,480.67 L146.27,483.45 L147.85,486.30 L149.42,489.21 L151.00,492.17 L152.58,495.19 L154.16,498.24 L155.74,501.33 L157.31,504.44 L158.89,507.57 L160.47,510.71 L162.05,513.85 L163.63,516.98 L165.21,520.10 L166.78,523.19 L168.36,526.26 L169.94,529.28 L171.52,532.26 L173.10,535.18 L174.68,538.04 L176.25,540.84 L177.83,543.55 L179.41,546.18 L180.99,548.73 L182.57,551.17 L184.15,553.51 L185.72,555.74 L187.30,557.86 L188.88,559.85 L190.46,561.72 L192.04,563.46 L193.62,565.06 L195.20,566.53 L196.77,567.84 L198.35,569.02 L199.93,570.04 L201.51,570.91 L203.09,571.62 L204.66,572.18 L206.24,572.58 L207.82,572.82 L209.40,572.90" fill="none" stroke="#000" stroke-width="2.8" stroke-linejoin="round"/>
<path d="M20.00,558.90 L21.58,558.82 L23.16,558.60 L24.73,558.22 L26.31,557.70 L27.89,557.03 L29.47,556.22 L31.05,555.26 L32.63,554.16 L34.20,552.92 L35.78,551.55 L37.36,550.05 L38.94,548.42 L40.52,546.68 L42.10,544.81 L43.67,542.83 L45.25,540.75 L46.83,538.57 L48.41,536.29 L49.99,533.92 L51.57,531.48 L53.14,528.95 L54.72,526.36 L56.30,523.71 L57.88,521.00 L59.46,518.25 L61.04,515.45 L62.62,512.63 L64.19,509.78 L65.77,506.92 L67.35,504.05 L68.93,501.18 L70.51,498.32 L72.09,495.47 L73.66,492.65 L75.24,489.85 L76.82,487.10 L78.40,484.39 L79.98,481.74 L81.56,479.15 L83.13,476.62 L84.71,474.18 L86.29,471.81 L87.87,469.53 L89.45,467.35 L91.03,465.27 L92.60,463.29 L94.18,461.42 L95.76,459.68 L97.34,458.05 L98.92,456.55 L100.50,455.18 L102.07,453.94 L103.65,452.84 L105.23,451.88 L106.81,451.07 L108.39,450.40 L109.97,449.88 L111.54,449.50 L113.12,449.28 L114.70,449.20 L116.28,449.28 L117.86,449.50 L119.44,449.88 L121.01,450.40 L122.59,451.07 L124.17,451.88 L125.75,452.84 L127.33,453.94 L128.91,455.18 L130.48,456.55 L132.06,458.05 L133.64,459.68 L135.22,461.42 L136.80,463.29 L138.38,465.27 L139.95,467.35 L141.53,469.53 L143.11,471.81 L144.69,474.18 L146.27,476.62 L147.85,479.15 L149.42,481.74 L151.00,484.39 L152.58,487.10 L154.16,489.85 L155.74,492.65 L157.31,495.47 L158.89,498.32 L160.47,501.18 L162.05,504.05 L163.63,506.92 L165.21,509.78 L166.78,512.63 L168.36,515.45 L169.94,518.25 L171.52,521.00 L173.10,523.71 L174.68,526.36 L176.25,528.95 L177.83,531.48 L179.41,533.92 L180.99,536.29 L182.57,538.57 L184.15,540.75 L185.72,542.83 L187.30,544.81 L188.88,546.68 L190.46,548.42 L192.04,550.05 L193.62,551.55 L195.20,552.92 L196.77,554.16 L198.35,555.26 L199.93,556.22 L201.51,557.03 L203.09,557.70 L204.66,558.22 L206.24,558.60 L207.82,558.82 L209.40,558.90" fill="none" stroke="#0b1af0" stroke-width="2.6" stroke-dasharray="6.5 4"/>
<text x="79.5" y="543.1" font-family="Liberation Sans" font-size="11.4" letter-spacing="0.35" fill="#111"><tspan font-style="italic">N</tspan><tspan font-size="8.2" dy="2.6">Co</tspan><tspan dy="-2.6"> = 8</tspan></text><text x="79.5" y="560.85" font-family="Liberation Sans" font-size="11.4" letter-spacing="0.35" fill="#111"><tspan font-style="italic">t</tspan><tspan font-size="8.2" dy="2.6">Co</tspan><tspan dy="-2.6"> = 1.25 nm</tspan></text><text x="79.5" y="578.6" font-family="Liberation Sans" font-size="11.4" letter-spacing="0.35" fill="#111"><tspan font-style="italic">t</tspan><tspan font-size="8.2" dy="2.6">Pt</tspan><tspan dy="-2.6">&#160; = 1.00 nm</tspan></text>
<text x="160.4" y="479.5" font-family="Liberation Sans" font-size="12.3" fill="#111">10<tspan font-size="8.4" dy="-4.6">3</tspan><tspan dy="4.6"> </tspan><tspan font-style="italic">k</tspan><tspan font-size="8.9" dy="2.4">B</tspan><tspan dy="-2.4" font-style="italic">T</tspan></text>
<line x1="201.3" y1="452" x2="201.3" y2="462.5" stroke="#000" stroke-width="0.7"/><polygon points="201.3,465.4 199.8,461.5 202.8,461.5" fill="#000"/><line x1="198.70000000000002" y1="466" x2="203.9" y2="466" stroke="#000" stroke-width="0.6"/><line x1="201.3" y1="500" x2="201.3" y2="488.7" stroke="#000" stroke-width="0.7"/><polygon points="201.3,485.8 199.8,489.7 202.8,489.7" fill="#000"/><line x1="198.70000000000002" y1="485.2" x2="203.9" y2="485.2" stroke="#000" stroke-width="0.6"/>
<text x="20.00" y="604.5" text-anchor="middle" font-family="Liberation Sans" font-size="11.8" fill="#111">0</text><text x="114.70" y="604.5" text-anchor="middle" font-family="Liberation Sans" font-size="11.8" fill="#111">90</text><text x="209.40" y="604.5" text-anchor="middle" font-family="Liberation Sans" font-size="11.8" fill="#111">180</text><text x="114.70" y="619.6" text-anchor="middle" font-family="Liberation Sans" font-size="11.3" letter-spacing="0.42" fill="#111">Polar angle <tspan dx="1.8" font-family="Liberation Serif" font-style="italic" font-size="12">θ</tspan><tspan dx="1.6">(°)</tspan></text>
<line x1="258.3" y1="457.50" x2="448" y2="457.50" stroke="#d6d6d6" stroke-width="0.7" stroke-dasharray="2.4 1.8"/>
<line x1="258.3" y1="498.30" x2="448" y2="498.30" stroke="#d6d6d6" stroke-width="0.7" stroke-dasharray="2.4 1.8"/>
<line x1="258.3" y1="539.00" x2="448" y2="539.00" stroke="#d6d6d6" stroke-width="0.7" stroke-dasharray="2.4 1.8"/>
<line x1="258.3" y1="579.80" x2="448" y2="579.80" stroke="#d6d6d6" stroke-width="0.7" stroke-dasharray="2.4 1.8"/>
<line x1="258.3" y1="435.1" x2="258.3" y2="590.6" stroke="#333" stroke-width="1.1"/>
<line x1="448" y1="435.1" x2="448" y2="590.6" stroke="#444" stroke-width="1.1"/>
<line x1="258.3" y1="437.1" x2="448" y2="437.1" stroke="#555" stroke-width="1"/>
<line x1="258.3" y1="590.6" x2="448" y2="590.6" stroke="#333" stroke-width="1.2"/>
<line x1="353.15" y1="434.1" x2="353.15" y2="437.1" stroke="#333" stroke-width="1"/>
<line x1="353.15" y1="587.6" x2="353.15" y2="590.6" stroke="#333" stroke-width="1"/>
<line x1="255.10000000000002" y1="457.50" x2="261.5" y2="457.50" stroke="#333" stroke-width="1"/>
<line x1="444.8" y1="457.50" x2="451.2" y2="457.50" stroke="#333" stroke-width="1"/>
<line x1="255.10000000000002" y1="498.30" x2="261.5" y2="498.30" stroke="#333" stroke-width="1"/>
<line x1="444.8" y1="498.30" x2="451.2" y2="498.30" stroke="#333" stroke-width="1"/>
<line x1="255.10000000000002" y1="539.00" x2="261.5" y2="539.00" stroke="#333" stroke-width="1"/>
<line x1="444.8" y1="539.00" x2="451.2" y2="539.00" stroke="#333" stroke-width="1"/>
<line x1="255.10000000000002" y1="579.80" x2="261.5" y2="579.80" stroke="#333" stroke-width="1"/>
<line x1="444.8" y1="579.80" x2="451.2" y2="579.80" stroke="#333" stroke-width="1"/>
<rect x="321" y="533" width="75" height="51" fill="#fff"/>
<path d="M258.30,457.30 L259.88,457.31 L261.46,457.36 L263.04,457.43 L264.62,457.52 L266.20,457.65 L267.79,457.80 L269.37,457.98 L270.95,458.19 L272.53,458.43 L274.11,458.69 L275.69,458.98 L277.27,459.30 L278.85,459.64 L280.43,460.01 L282.01,460.41 L283.59,460.83 L285.17,461.27 L286.75,461.75 L288.34,462.24 L289.92,462.77 L291.50,463.31 L293.08,463.88 L294.66,464.48 L296.24,465.09 L297.82,465.73 L299.40,466.39 L300.98,467.08 L302.56,467.78 L304.14,468.50 L305.73,469.25 L307.31,470.02 L308.89,470.80 L310.47,471.60 L312.05,472.42 L313.63,473.26 L315.21,474.12 L316.79,474.99 L318.37,475.88 L319.95,476.78 L321.53,477.70 L323.11,478.63 L324.69,479.58 L326.28,480.54 L327.86,481.51 L329.44,482.49 L331.02,483.48 L332.60,484.48 L334.18,485.49 L335.76,486.51 L337.34,487.54 L338.92,488.58 L340.50,489.62 L342.08,490.66 L343.67,491.72 L345.25,492.77 L346.83,493.84 L348.41,494.90 L349.99,495.96 L351.57,497.03 L353.15,498.10 L354.73,499.17 L356.31,500.24 L357.89,501.30 L359.47,502.36 L361.05,503.43 L362.63,504.48 L364.22,505.54 L365.80,506.58 L367.38,507.62 L368.96,508.66 L370.54,509.69 L372.12,510.71 L373.70,511.72 L375.28,512.72 L376.86,513.71 L378.44,514.69 L380.02,515.66 L381.61,516.62 L383.19,517.57 L384.77,518.50 L386.35,519.42 L387.93,520.32 L389.51,521.21 L391.09,522.08 L392.67,522.94 L394.25,523.78 L395.83,524.60 L397.41,525.40 L398.99,526.18 L400.57,526.95 L402.16,527.70 L403.74,528.42 L405.32,529.12 L406.90,529.81 L408.48,530.47 L410.06,531.11 L411.64,531.72 L413.22,532.32 L414.80,532.89 L416.38,533.43 L417.96,533.96 L419.54,534.45 L421.13,534.93 L422.71,535.37 L424.29,535.79 L425.87,536.19 L427.45,536.56 L429.03,536.90 L430.61,537.22 L432.19,537.51 L433.77,537.77 L435.35,538.01 L436.93,538.22 L438.51,538.40 L440.10,538.55 L441.68,538.68 L443.26,538.77 L444.84,538.84 L446.42,538.89 L448.00,538.90" fill="none" stroke="#ff2b2b" stroke-width="2.4" stroke-linecap="round" stroke-dasharray="0.01 5.05"/>
<path d="M258.30,493.90 L259.88,493.86 L261.46,493.75 L263.04,493.57 L264.62,493.32 L266.20,493.00 L267.79,492.60 L269.37,492.14 L270.95,491.61 L272.53,491.02 L274.11,490.36 L275.69,489.64 L277.27,488.87 L278.85,488.04 L280.43,487.16 L282.01,486.23 L283.59,485.25 L285.17,484.23 L286.75,483.18 L288.34,482.09 L289.92,480.97 L291.50,479.82 L293.08,478.65 L294.66,477.46 L296.24,476.26 L297.82,475.06 L299.40,473.84 L300.98,472.63 L302.56,471.43 L304.14,470.23 L305.73,469.05 L307.31,467.89 L308.89,466.75 L310.47,465.65 L312.05,464.57 L313.63,463.54 L315.21,462.55 L316.79,461.60 L318.37,460.71 L319.95,459.88 L321.53,459.10 L323.11,458.39 L324.69,457.75 L326.28,457.18 L327.86,456.68 L329.44,456.26 L331.02,455.93 L332.60,455.68 L334.18,455.52 L335.76,455.45 L337.34,455.47 L338.92,455.59 L340.50,455.80 L342.08,456.11 L343.67,456.52 L345.25,457.03 L346.83,457.64 L348.41,458.35 L349.99,459.17 L351.57,460.08 L353.15,461.10 L354.73,462.22 L356.31,463.44 L357.89,464.75 L359.47,466.17 L361.05,467.68 L362.63,469.28 L364.22,470.98 L365.80,472.76 L367.38,474.64 L368.96,476.59 L370.54,478.62 L372.12,480.74 L373.70,482.92 L375.28,485.17 L376.86,487.49 L378.44,489.87 L380.02,492.31 L381.61,494.79 L383.19,497.33 L384.77,499.90 L386.35,502.51 L387.93,505.15 L389.51,507.82 L391.09,510.51 L392.67,513.21 L394.25,515.93 L395.83,518.64 L397.41,521.35 L398.99,524.06 L400.57,526.75 L402.16,529.42 L403.74,532.07 L405.32,534.68 L406.90,537.26 L408.48,539.79 L410.06,542.28 L411.64,544.71 L413.22,547.09 L414.80,549.39 L416.38,551.63 L417.96,553.80 L419.54,555.88 L421.13,557.88 L422.71,559.80 L424.29,561.62 L425.87,563.34 L427.45,564.96 L429.03,566.47 L430.61,567.88 L432.19,569.18 L433.77,570.36 L435.35,571.43 L436.93,572.37 L438.51,573.20 L440.10,573.90 L441.68,574.47 L443.26,574.92 L444.84,575.24 L446.42,575.44 L448.00,575.50" fill="none" stroke="#000" stroke-width="2.8" stroke-linejoin="round"/>
<path d="M258.30,534.40 L259.88,534.35 L261.46,534.20 L263.04,533.95 L264.62,533.60 L266.20,533.15 L267.79,532.60 L269.37,531.96 L270.95,531.22 L272.53,530.39 L274.11,529.47 L275.69,528.46 L277.27,527.37 L278.85,526.20 L280.43,524.95 L282.01,523.62 L283.59,522.22 L285.17,520.76 L286.75,519.23 L288.34,517.64 L289.92,516.00 L291.50,514.31 L293.08,512.57 L294.66,510.79 L296.24,508.97 L297.82,507.12 L299.40,505.25 L300.98,503.36 L302.56,501.45 L304.14,499.53 L305.73,497.60 L307.31,495.67 L308.89,493.75 L310.47,491.84 L312.05,489.95 L313.63,488.08 L315.21,486.23 L316.79,484.41 L318.37,482.63 L319.95,480.89 L321.53,479.20 L323.11,477.56 L324.69,475.97 L326.28,474.44 L327.86,472.98 L329.44,471.58 L331.02,470.25 L332.60,469.00 L334.18,467.83 L335.76,466.74 L337.34,465.73 L338.92,464.81 L340.50,463.98 L342.08,463.24 L343.67,462.60 L345.25,462.05 L346.83,461.60 L348.41,461.25 L349.99,461.00 L351.57,460.85 L353.15,460.80 L354.73,460.85 L356.31,461.00 L357.89,461.25 L359.47,461.60 L361.05,462.05 L362.63,462.60 L364.22,463.24 L365.80,463.98 L367.38,464.81 L368.96,465.73 L370.54,466.74 L372.12,467.83 L373.70,469.00 L375.28,470.25 L376.86,471.58 L378.44,472.98 L380.02,474.44 L381.61,475.97 L383.19,477.56 L384.77,479.20 L386.35,480.89 L387.93,482.63 L389.51,484.41 L391.09,486.23 L392.67,488.08 L394.25,489.95 L395.83,491.84 L397.41,493.75 L398.99,495.67 L400.57,497.60 L402.16,499.53 L403.74,501.45 L405.32,503.36 L406.90,505.25 L408.48,507.12 L410.06,508.97 L411.64,510.79 L413.22,512.57 L414.80,514.31 L416.38,516.00 L417.96,517.64 L419.54,519.23 L421.13,520.76 L422.71,522.22 L424.29,523.62 L425.87,524.95 L427.45,526.20 L429.03,527.37 L430.61,528.46 L432.19,529.47 L433.77,530.39 L435.35,531.22 L436.93,531.96 L438.51,532.60 L440.10,533.15 L441.68,533.60 L443.26,533.95 L444.84,534.20 L446.42,534.35 L448.00,534.40" fill="none" stroke="#0b1af0" stroke-width="2.6" stroke-dasharray="6.5 4"/>
<text x="322.9" y="544.6" font-family="Liberation Sans" font-size="11.4" letter-spacing="0.35" fill="#111"><tspan font-style="italic">N</tspan><tspan font-size="8.2" dy="2.6">Co</tspan><tspan dy="-2.6"> = 8</tspan></text><text x="322.9" y="562.2" font-family="Liberation Sans" font-size="11.4" letter-spacing="0.35" fill="#111"><tspan font-style="italic">t</tspan><tspan font-size="8.2" dy="2.6">Co</tspan><tspan dy="-2.6"> = 1.45 nm</tspan></text><text x="322.9" y="579.8000000000001" font-family="Liberation Sans" font-size="11.4" letter-spacing="0.35" fill="#111"><tspan font-style="italic">t</tspan><tspan font-size="8.2" dy="2.6">Pt</tspan><tspan dy="-2.6">&#160; = 1.00 nm</tspan></text>
<text x="404" y="480.1" font-family="Liberation Sans" font-size="12.3" fill="#111">10<tspan font-size="8.4" dy="-4.6">3</tspan><tspan dy="4.6"> </tspan><tspan font-style="italic">k</tspan><tspan font-size="8.9" dy="2.4">B</tspan><tspan dy="-2.4" font-style="italic">T</tspan></text>
<line x1="439.7" y1="461.3" x2="439.7" y2="469" stroke="#000" stroke-width="0.8"/><polygon points="439.7,458.2 438.09999999999997,462.40000000000003 441.3,462.40000000000003" fill="#000"/><line x1="439.7" y1="487.9" x2="439.7" y2="494.8" stroke="#000" stroke-width="0.8"/><polygon points="439.7,497.90000000000003 438.09999999999997,493.7 441.3,493.7" fill="#000"/>
<text x="258.30" y="604.5" text-anchor="middle" font-family="Liberation Sans" font-size="11.8" fill="#111">0</text><text x="353.15" y="604.5" text-anchor="middle" font-family="Liberation Sans" font-size="11.8" fill="#111">90</text><text x="448.00" y="604.5" text-anchor="middle" font-family="Liberation Sans" font-size="11.8" fill="#111">180</text><text x="353.15" y="619.6" text-anchor="middle" font-family="Liberation Sans" font-size="11.3" letter-spacing="0.42" fill="#111">Polar angle <tspan dx="1.8" font-family="Liberation Serif" font-style="italic" font-size="12">θ</tspan><tspan dx="1.6">(°)</tspan></text>
<line x1="486.1" y1="456.30" x2="675.2" y2="456.30" stroke="#d6d6d6" stroke-width="0.7" stroke-dasharray="2.4 1.8"/>
<line x1="486.1" y1="494.40" x2="675.2" y2="494.40" stroke="#d6d6d6" stroke-width="0.7" stroke-dasharray="2.4 1.8"/>
<line x1="486.1" y1="532.50" x2="675.2" y2="532.50" stroke="#d6d6d6" stroke-width="0.7" stroke-dasharray="2.4 1.8"/>
<line x1="486.1" y1="570.60" x2="675.2" y2="570.60" stroke="#d6d6d6" stroke-width="0.7" stroke-dasharray="2.4 1.8"/>
<line x1="486.1" y1="435.2" x2="486.1" y2="590.6" stroke="#333" stroke-width="1.1"/>
<line x1="675.2" y1="435.2" x2="675.2" y2="590.6" stroke="#444" stroke-width="1.1"/>
<line x1="486.1" y1="437.2" x2="675.2" y2="437.2" stroke="#555" stroke-width="1"/>
<line x1="486.1" y1="590.6" x2="675.2" y2="590.6" stroke="#333" stroke-width="1.2"/>
<line x1="580.6500000000001" y1="434.2" x2="580.6500000000001" y2="437.2" stroke="#333" stroke-width="1"/>
<line x1="580.6500000000001" y1="587.6" x2="580.6500000000001" y2="590.6" stroke="#333" stroke-width="1"/>
<line x1="482.90000000000003" y1="456.30" x2="489.3" y2="456.30" stroke="#333" stroke-width="1"/>
<line x1="672.0" y1="456.30" x2="678.4000000000001" y2="456.30" stroke="#333" stroke-width="1"/>
<line x1="482.90000000000003" y1="494.40" x2="489.3" y2="494.40" stroke="#333" stroke-width="1"/>
<line x1="672.0" y1="494.40" x2="678.4000000000001" y2="494.40" stroke="#333" stroke-width="1"/>
<line x1="482.90000000000003" y1="532.50" x2="489.3" y2="532.50" stroke="#333" stroke-width="1"/>
<line x1="672.0" y1="532.50" x2="678.4000000000001" y2="532.50" stroke="#333" stroke-width="1"/>
<line x1="482.90000000000003" y1="570.60" x2="489.3" y2="570.60" stroke="#333" stroke-width="1"/>
<line x1="672.0" y1="570.60" x2="678.4000000000001" y2="570.60" stroke="#333" stroke-width="1"/>
<rect x="541" y="444" width="75" height="51" fill="#fff"/>
<path d="M486.10,484.30 L487.68,484.32 L489.25,484.37 L490.83,484.45 L492.40,484.57 L493.98,484.72 L495.56,484.90 L497.13,485.12 L498.71,485.36 L500.28,485.65 L501.86,485.96 L503.43,486.31 L505.01,486.68 L506.59,487.09 L508.16,487.53 L509.74,488.01 L511.31,488.51 L512.89,489.04 L514.47,489.61 L516.04,490.20 L517.62,490.82 L519.19,491.48 L520.77,492.16 L522.34,492.87 L523.92,493.60 L525.50,494.36 L527.07,495.15 L528.65,495.97 L530.22,496.81 L531.80,497.67 L533.38,498.56 L534.95,499.48 L536.53,500.41 L538.10,501.37 L539.68,502.35 L541.25,503.35 L542.83,504.37 L544.41,505.42 L545.98,506.48 L547.56,507.55 L549.13,508.65 L550.71,509.76 L552.29,510.89 L553.86,512.03 L555.44,513.19 L557.01,514.36 L558.59,515.55 L560.16,516.74 L561.74,517.95 L563.32,519.17 L564.89,520.40 L566.47,521.63 L568.04,522.87 L569.62,524.13 L571.20,525.38 L572.77,526.64 L574.35,527.91 L575.92,529.18 L577.50,530.45 L579.07,531.73 L580.65,533.00 L582.23,534.27 L583.80,535.55 L585.38,536.82 L586.95,538.09 L588.53,539.36 L590.11,540.62 L591.68,541.87 L593.26,543.13 L594.83,544.37 L596.41,545.60 L597.98,546.83 L599.56,548.05 L601.14,549.26 L602.71,550.45 L604.29,551.64 L605.86,552.81 L607.44,553.97 L609.02,555.11 L610.59,556.24 L612.17,557.35 L613.74,558.45 L615.32,559.52 L616.89,560.58 L618.47,561.63 L620.05,562.65 L621.62,563.65 L623.20,564.63 L624.77,565.59 L626.35,566.52 L627.93,567.44 L629.50,568.33 L631.08,569.19 L632.65,570.03 L634.23,570.85 L635.80,571.64 L637.38,572.40 L638.96,573.13 L640.53,573.84 L642.11,574.52 L643.68,575.18 L645.26,575.80 L646.84,576.39 L648.41,576.96 L649.99,577.49 L651.56,577.99 L653.14,578.47 L654.71,578.91 L656.29,579.32 L657.87,579.69 L659.44,580.04 L661.02,580.35 L662.59,580.64 L664.17,580.88 L665.75,581.10 L667.32,581.28 L668.90,581.43 L670.47,581.55 L672.05,581.63 L673.62,581.68 L675.20,581.70" fill="none" stroke="#ff2b2b" stroke-width="2.4" stroke-linecap="round" stroke-dasharray="0.01 5.05"/>
<path d="M486.10,453.80 L487.68,453.86 L489.25,454.03 L490.83,454.33 L492.40,454.74 L493.98,455.26 L495.56,455.90 L497.13,456.65 L498.71,457.51 L500.28,458.49 L501.86,459.57 L503.43,460.75 L505.01,462.04 L506.59,463.42 L508.16,464.91 L509.74,466.48 L511.31,468.15 L512.89,469.91 L514.47,471.74 L516.04,473.66 L517.62,475.65 L519.19,477.71 L520.77,479.84 L522.34,482.03 L523.92,484.28 L525.50,486.58 L527.07,488.93 L528.65,491.32 L530.22,493.76 L531.80,496.22 L533.38,498.71 L534.95,501.23 L536.53,503.77 L538.10,506.32 L539.68,508.87 L541.25,511.44 L542.83,514.00 L544.41,516.55 L545.98,519.09 L547.56,521.62 L549.13,524.12 L550.71,526.61 L552.29,529.06 L553.86,531.47 L555.44,533.85 L557.01,536.19 L558.59,538.47 L560.16,540.71 L561.74,542.90 L563.32,545.02 L564.89,547.09 L566.47,549.09 L568.04,551.02 L569.62,552.89 L571.20,554.68 L572.77,556.40 L574.35,558.04 L575.92,559.60 L577.50,561.08 L579.07,562.48 L580.65,563.80 L582.23,565.03 L583.80,566.18 L585.38,567.24 L586.95,568.22 L588.53,569.11 L590.11,569.92 L591.68,570.64 L593.26,571.28 L594.83,571.83 L596.41,572.30 L597.98,572.69 L599.56,573.00 L601.14,573.23 L602.71,573.38 L604.29,573.46 L605.86,573.47 L607.44,573.40 L609.02,573.27 L610.59,573.08 L612.17,572.83 L613.74,572.51 L615.32,572.14 L616.89,571.72 L618.47,571.25 L620.05,570.73 L621.62,570.17 L623.20,569.57 L624.77,568.94 L626.35,568.28 L627.93,567.59 L629.50,566.87 L631.08,566.14 L632.65,565.39 L634.23,564.62 L635.80,563.85 L637.38,563.08 L638.96,562.30 L640.53,561.53 L642.11,560.76 L643.68,560.00 L645.26,559.26 L646.84,558.53 L648.41,557.82 L649.99,557.13 L651.56,556.47 L653.14,555.84 L654.71,555.24 L656.29,554.67 L657.87,554.14 L659.44,553.65 L661.02,553.20 L662.59,552.79 L664.17,552.42 L665.75,552.10 L667.32,551.83 L668.90,551.60 L670.47,551.43 L672.05,551.30 L673.62,551.23 L675.20,551.20" fill="none" stroke="#000" stroke-width="2.8" stroke-linejoin="round"/>
<path d="M486.10,502.20 L487.68,502.24 L489.25,502.37 L490.83,502.58 L492.40,502.87 L493.98,503.24 L495.56,503.70 L497.13,504.24 L498.71,504.85 L500.28,505.54 L501.86,506.31 L503.43,507.14 L505.01,508.05 L506.59,509.03 L508.16,510.07 L509.74,511.18 L511.31,512.34 L512.89,513.56 L514.47,514.83 L516.04,516.16 L517.62,517.52 L519.19,518.94 L520.77,520.38 L522.34,521.87 L523.92,523.38 L525.50,524.92 L527.07,526.48 L528.65,528.06 L530.22,529.65 L531.80,531.25 L533.38,532.85 L534.95,534.45 L536.53,536.05 L538.10,537.64 L539.68,539.22 L541.25,540.78 L542.83,542.32 L544.41,543.83 L545.98,545.32 L547.56,546.76 L549.13,548.17 L550.71,549.54 L552.29,550.87 L553.86,552.14 L555.44,553.36 L557.01,554.52 L558.59,555.63 L560.16,556.67 L561.74,557.65 L563.32,558.56 L564.89,559.39 L566.47,560.16 L568.04,560.85 L569.62,561.46 L571.20,562.00 L572.77,562.46 L574.35,562.83 L575.92,563.12 L577.50,563.33 L579.07,563.46 L580.65,563.50 L582.23,563.46 L583.80,563.33 L585.38,563.12 L586.95,562.83 L588.53,562.46 L590.11,562.00 L591.68,561.46 L593.26,560.85 L594.83,560.16 L596.41,559.39 L597.98,558.56 L599.56,557.65 L601.14,556.67 L602.71,555.63 L604.29,554.52 L605.86,553.36 L607.44,552.14 L609.02,550.87 L610.59,549.54 L612.17,548.17 L613.74,546.76 L615.32,545.32 L616.89,543.83 L618.47,542.32 L620.05,540.78 L621.62,539.22 L623.20,537.64 L624.77,536.05 L626.35,534.45 L627.93,532.85 L629.50,531.25 L631.08,529.65 L632.65,528.06 L634.23,526.48 L635.80,524.92 L637.38,523.38 L638.96,521.87 L640.53,520.38 L642.11,518.94 L643.68,517.52 L645.26,516.16 L646.84,514.83 L648.41,513.56 L649.99,512.34 L651.56,511.18 L653.14,510.07 L654.71,509.03 L656.29,508.05 L657.87,507.14 L659.44,506.31 L661.02,505.54 L662.59,504.85 L664.17,504.24 L665.75,503.70 L667.32,503.24 L668.90,502.87 L670.47,502.58 L672.05,502.37 L673.62,502.24 L675.20,502.20" fill="none" stroke="#0b1af0" stroke-width="2.6" stroke-dasharray="6.5 4"/>
<text x="543" y="456" font-family="Liberation Sans" font-size="11.4" letter-spacing="0.35" fill="#111"><tspan font-style="italic">N</tspan><tspan font-size="8.2" dy="2.6">Co</tspan><tspan dy="-2.6"> = 8</tspan></text><text x="543" y="473.55" font-family="Liberation Sans" font-size="11.4" letter-spacing="0.35" fill="#111"><tspan font-style="italic">t</tspan><tspan font-size="8.2" dy="2.6">Co</tspan><tspan dy="-2.6"> = 1.65 nm</tspan></text><text x="543" y="491.1" font-family="Liberation Sans" font-size="11.4" letter-spacing="0.35" fill="#111"><tspan font-style="italic">t</tspan><tspan font-size="8.2" dy="2.6">Pt</tspan><tspan dy="-2.6">&#160; = 1.00 nm</tspan></text>
<text x="630.6" y="478.3" font-family="Liberation Sans" font-size="12.3" fill="#111">10<tspan font-size="8.4" dy="-4.6">3</tspan><tspan dy="4.6"> </tspan><tspan font-style="italic">k</tspan><tspan font-size="8.9" dy="2.4">B</tspan><tspan dy="-2.4" font-style="italic">T</tspan></text>
<line x1="666.8" y1="460.1" x2="666.8" y2="465.4" stroke="#000" stroke-width="0.8"/><polygon points="666.8,457.0 665.1999999999999,461.20000000000005 668.4,461.20000000000005" fill="#000"/><line x1="666.8" y1="485.2" x2="666.8" y2="490.7" stroke="#000" stroke-width="0.8"/><polygon points="666.8,493.8 665.1999999999999,489.59999999999997 668.4,489.59999999999997" fill="#000"/>
<text x="486.10" y="604.5" text-anchor="middle" font-family="Liberation Sans" font-size="11.8" fill="#111">0</text><text x="580.65" y="604.5" text-anchor="middle" font-family="Liberation Sans" font-size="11.8" fill="#111">90</text><text x="675.20" y="604.5" text-anchor="middle" font-family="Liberation Sans" font-size="11.8" fill="#111">180</text><text x="580.65" y="619.6" text-anchor="middle" font-family="Liberation Sans" font-size="11.3" letter-spacing="0.42" fill="#111">Polar angle <tspan dx="1.8" font-family="Liberation Serif" font-style="italic" font-size="12">θ</tspan><tspan dx="1.6">(°)</tspan></text>
</svg>
</body></html>
